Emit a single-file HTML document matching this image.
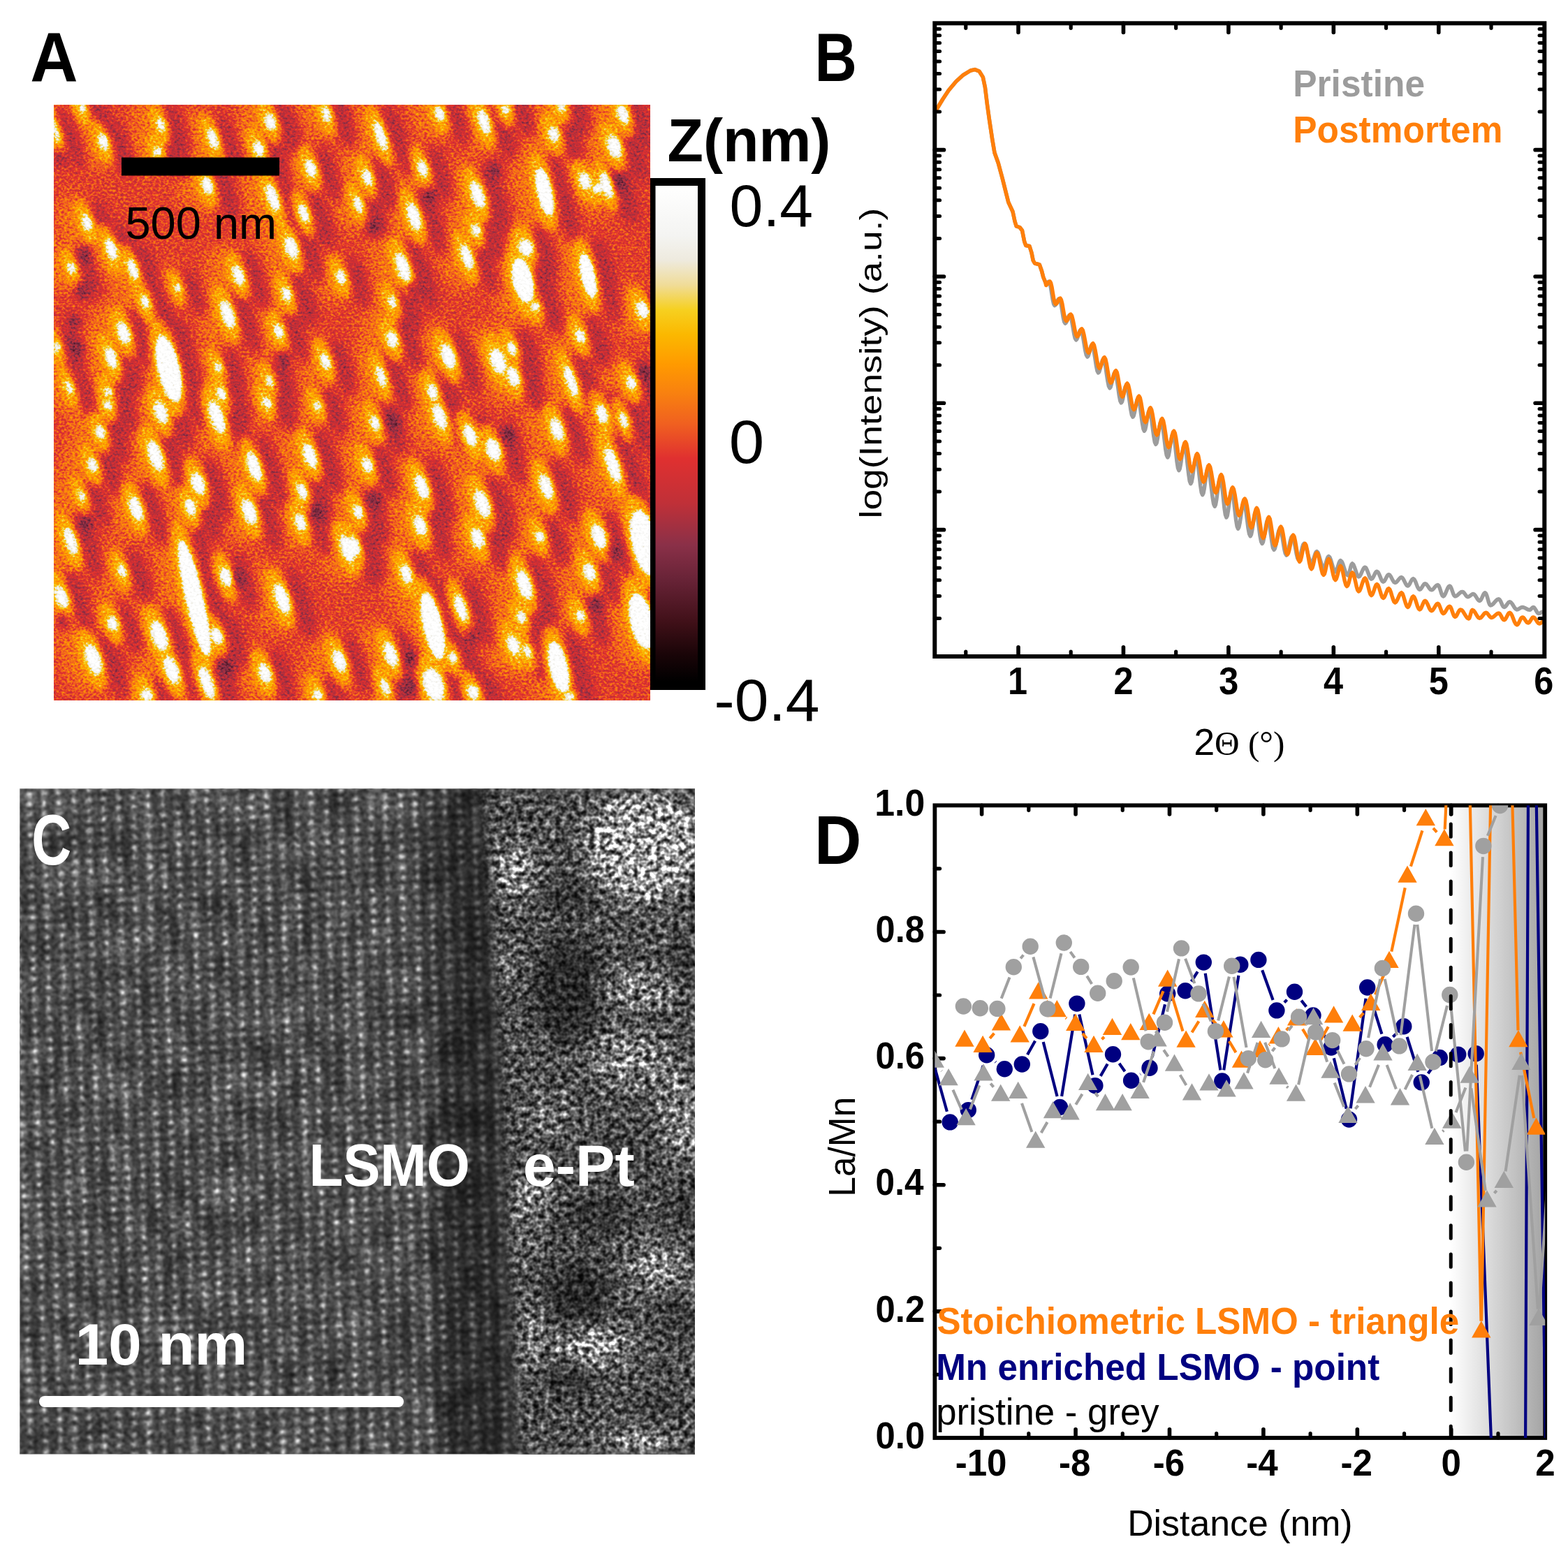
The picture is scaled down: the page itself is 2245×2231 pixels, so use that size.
<!DOCTYPE html>
<html lang="en">
<head>
<meta charset="utf-8">
<title>Figure</title>
<style>
html,body{margin:0;padding:0;background:#fff;}
body{width:2245px;height:2231px;overflow:hidden;}
svg{display:block;}
text{white-space:pre;}
</style>
</head>
<body>
<svg width="2245" height="2231" viewBox="0 0 2245 2231">
<defs>
<filter id="afmmap" x="0" y="0" width="100%" height="100%" filterUnits="objectBoundingBox" color-interpolation-filters="sRGB">
<feTurbulence type="fractalNoise" baseFrequency="0.26 0.32" numOctaves="2" seed="7" result="n"/>
<feColorMatrix in="n" type="matrix" values="1 0 0 0 0 1 0 0 0 0 1 0 0 0 0 0 0 0 0 1" result="ng"/>
<feComposite in="SourceGraphic" in2="ng" operator="arithmetic" k1="0" k2="1" k3="0.44" k4="-0.22" result="h"/>
<feComponentTransfer in="h"><feFuncR type="table" tableValues="0.000 0.046 0.093 0.148 0.205 0.260 0.306 0.352 0.397 0.445 0.493 0.541 0.603 0.666 0.728 0.774 0.809 0.844 0.878 0.901 0.923 0.944 0.957 0.970 0.982 0.993 0.997 0.991 0.984 0.975 0.965 0.953 0.941 0.937 0.933 0.945 0.957 0.968 0.978 0.989 1.000"/><feFuncG type="table" tableValues="0.000 0.009 0.018 0.033 0.049 0.067 0.089 0.111 0.132 0.152 0.170 0.188 0.188 0.188 0.188 0.188 0.188 0.188 0.188 0.255 0.323 0.387 0.439 0.492 0.536 0.578 0.624 0.673 0.722 0.769 0.816 0.839 0.863 0.890 0.918 0.937 0.957 0.968 0.978 0.989 1.000"/><feFuncB type="table" tableValues="0.000 0.014 0.029 0.051 0.075 0.101 0.136 0.171 0.206 0.234 0.258 0.282 0.264 0.245 0.227 0.214 0.206 0.197 0.188 0.166 0.143 0.120 0.094 0.068 0.042 0.016 0.000 0.000 0.000 0.063 0.125 0.361 0.596 0.733 0.871 0.910 0.949 0.962 0.975 0.987 1.000"/></feComponentTransfer>
</filter>
<filter id="bl2_2" x="-20%" y="-20%" width="140%" height="140%" color-interpolation-filters="sRGB"><feGaussianBlur stdDeviation="2.2"/></filter>
<filter id="bl3" x="-20%" y="-20%" width="140%" height="140%" color-interpolation-filters="sRGB"><feGaussianBlur stdDeviation="3"/></filter>
<filter id="bl5" x="-20%" y="-20%" width="140%" height="140%" color-interpolation-filters="sRGB"><feGaussianBlur stdDeviation="5"/></filter>
<filter id="bl7" x="-20%" y="-20%" width="140%" height="140%" color-interpolation-filters="sRGB"><feGaussianBlur stdDeviation="7"/></filter>
<filter id="bl11" x="-20%" y="-20%" width="140%" height="140%" color-interpolation-filters="sRGB"><feGaussianBlur stdDeviation="11"/></filter>
<clipPath id="clipA"><rect x="0" y="0" width="854" height="853"/></clipPath>
<linearGradient id="cbar" x1="0" y1="0" x2="0" y2="1">
<stop offset="0" stop-color="#ffffff"/>
<stop offset="0.10" stop-color="#f4f4f2"/>
<stop offset="0.15" stop-color="#eeeade"/>
<stop offset="0.20" stop-color="#f0dc98"/>
<stop offset="0.25" stop-color="#f6d020"/>
<stop offset="0.30" stop-color="#fbb800"/>
<stop offset="0.36" stop-color="#ff9a00"/>
<stop offset="0.42" stop-color="#f88010"/>
<stop offset="0.48" stop-color="#f06020"/>
<stop offset="0.55" stop-color="#e03030"/>
<stop offset="0.64" stop-color="#c03038"/>
<stop offset="0.725" stop-color="#8a3048"/>
<stop offset="0.79" stop-color="#6a2438"/>
<stop offset="0.88" stop-color="#401018"/>
<stop offset="0.945" stop-color="#1a0508"/>
<stop offset="1" stop-color="#000000"/>
</linearGradient>
<clipPath id="clipB"><rect x="1338.3" y="33.3" width="873.0000000000002" height="906.7"/></clipPath>
<clipPath id="clipC"><rect x="0" y="0" width="967" height="953.5"/></clipPath>
<radialGradient id="dotg" cx="0.5" cy="0.5" r="0.5"><stop offset="0" stop-color="#fff" stop-opacity="0.76"/><stop offset="0.3" stop-color="#fff" stop-opacity="0.5"/><stop offset="0.62" stop-color="#fff" stop-opacity="0.17"/><stop offset="1" stop-color="#fff" stop-opacity="0"/></radialGradient>
<pattern id="lat" width="21.2" height="14.7" patternUnits="userSpaceOnUse" patternTransform="matrix(1 -0.08 0.025 1 3 2)"><circle cx="10.6" cy="7.35" r="7.9" fill="url(#dotg)"/></pattern>
<filter id="latmod" x="0" y="0" width="100%" height="100%" color-interpolation-filters="sRGB">
<feTurbulence type="fractalNoise" baseFrequency="0.03 0.02" numOctaves="2" seed="5" result="n"/>
<feColorMatrix in="n" type="matrix" values="1 0 0 0 0 1 0 0 0 0 1 0 0 0 0 0 0 0 0 1" result="s"/>
<feComposite in="SourceGraphic" in2="s" operator="arithmetic" k1="1.0" k2="0.5" k3="0" k4="0" result="m"/>
<feTurbulence type="fractalNoise" baseFrequency="0.16" numOctaves="2" seed="23" result="n2"/>
<feColorMatrix in="n2" type="matrix" values="1 0 0 0 0 1 0 0 0 0 1 0 0 0 0 0 0 0 0 1" result="s2"/>
<feComposite in="m" in2="s2" operator="arithmetic" k1="1.4" k2="0.3" k3="0" k4="0" result="m2"/>
<feGaussianBlur in="m2" stdDeviation="0.9"/>
</filter>
<filter id="spk" x="0" y="0" width="100%" height="100%" color-interpolation-filters="sRGB">
<feTurbulence type="fractalNoise" baseFrequency="0.125" numOctaves="2" seed="11" result="n"/>
<feColorMatrix in="n" type="matrix" values="1.35 0 0 0 -0.175 1.35 0 0 0 -0.175 1.35 0 0 0 -0.175 0 0 0 0 1" result="n1"/>
<feComponentTransfer in="n1" result="s"><feFuncR type="gamma" amplitude="1" exponent="1.5" offset="0"/><feFuncG type="gamma" amplitude="1" exponent="1.5" offset="0"/><feFuncB type="gamma" amplitude="1" exponent="1.5" offset="0"/></feComponentTransfer>
<feComposite in="SourceGraphic" in2="s" operator="arithmetic" k1="2.6" k2="0.06" k3="0" k4="0" result="o"/>
<feGaussianBlur in="o" stdDeviation="0.7"/>
</filter>
<filter id="tb14" x="-30%" y="-30%" width="160%" height="160%" color-interpolation-filters="sRGB"><feGaussianBlur stdDeviation="14"/></filter>
<filter id="tb22" x="-30%" y="-30%" width="160%" height="160%" color-interpolation-filters="sRGB"><feGaussianBlur stdDeviation="22"/></filter>
<filter id="tb30" x="-30%" y="-30%" width="160%" height="160%" color-interpolation-filters="sRGB"><feGaussianBlur stdDeviation="30"/></filter>
<linearGradient id="band" x1="0" y1="0" x2="1" y2="0"><stop offset="0" stop-color="#000" stop-opacity="0"/><stop offset="0.35" stop-color="#000" stop-opacity="0.42"/><stop offset="0.7" stop-color="#000" stop-opacity="0.42"/><stop offset="1" stop-color="#000" stop-opacity="0"/></linearGradient>
<mask id="ptmask" maskUnits="userSpaceOnUse" x="0" y="0" width="967" height="953.5"><g filter="url(#tbm)"><polygon points="662,0 672,120 680,260 690,400 696,540 702,680 708,820 716,953.5 1007,953.5 1007,0" fill="#fff"/></g></mask>
<filter id="tbm" x="-10%" y="-10%" width="120%" height="120%"><feGaussianBlur stdDeviation="9"/></filter>
<clipPath id="clipD"><rect x="1338.4" y="1153.3" width="873.7999999999997" height="905.7"/></clipPath>
<linearGradient id="gradD" x1="0" y1="0" x2="1" y2="0"><stop offset="0" stop-color="#ffffff"/><stop offset="0.5" stop-color="#d2d2d2"/><stop offset="1" stop-color="#a3a3a3"/></linearGradient>
</defs>
<rect x="0" y="0" width="2245" height="2231" fill="#fff"/>
<g id="panelA">
<g transform="translate(77 150)" clip-path="url(#clipA)">
<g filter="url(#afmmap)">
<rect x="0" y="0" width="854" height="853" fill="#777777"/>
<g filter="url(#bl11)" fill="#949494" opacity="0.8"><ellipse cx="25.1" cy="5.6" rx="24.4" ry="36.6" transform="rotate(-19 25.1 5.6)"/><ellipse cx="-13.8" cy="37.8" rx="22.7" ry="50.0" transform="rotate(-19 -13.8 37.8)"/><ellipse cx="55.2" cy="53.4" rx="26.7" ry="42.7" transform="rotate(-19 55.2 53.4)"/><ellipse cx="137.5" cy="28.9" rx="25.6" ry="40.2" transform="rotate(-19 137.5 28.9)"/><ellipse cx="133.0" cy="66.7" rx="26.2" ry="34.8" transform="rotate(-19 133.0 66.7)"/><ellipse cx="212.0" cy="48.9" rx="26.7" ry="46.3" transform="rotate(-19 212.0 48.9)"/><ellipse cx="294.2" cy="24.5" rx="27.8" ry="42.7" transform="rotate(-19 294.2 24.5)"/><ellipse cx="374.3" cy="13.3" rx="25.6" ry="42.7" transform="rotate(-19 374.3 13.3)"/><ellipse cx="277.6" cy="63.4" rx="27.8" ry="41.5" transform="rotate(-19 277.6 63.4)"/><ellipse cx="352.1" cy="91.2" rx="27.8" ry="43.9" transform="rotate(-19 352.1 91.2)"/><ellipse cx="204.2" cy="115.6" rx="27.8" ry="42.7" transform="rotate(-19 204.2 115.6)"/><ellipse cx="297.6" cy="133.4" rx="27.8" ry="52.5" transform="rotate(-19 297.6 133.4)"/><ellipse cx="342.1" cy="155.7" rx="26.7" ry="45.1" transform="rotate(-19 342.1 155.7)"/><ellipse cx="31.8" cy="169.0" rx="26.7" ry="42.7" transform="rotate(-19 31.8 169.0)"/><ellipse cx="66.3" cy="206.8" rx="27.8" ry="47.6" transform="rotate(-19 66.3 206.8)"/><ellipse cx="324.3" cy="204.6" rx="28.9" ry="47.6" transform="rotate(-19 324.3 204.6)"/><ellipse cx="9.6" cy="233.5" rx="25.6" ry="37.8" transform="rotate(-19 9.6 233.5)"/><ellipse cx="97.4" cy="235.7" rx="26.7" ry="47.6" transform="rotate(-19 97.4 235.7)"/><ellipse cx="248.7" cy="244.6" rx="27.8" ry="45.1" transform="rotate(-19 248.7 244.6)"/><ellipse cx="395.4" cy="246.9" rx="26.7" ry="40.2" transform="rotate(-19 395.4 246.9)"/><ellipse cx="317.6" cy="271.3" rx="26.7" ry="40.2" transform="rotate(-19 317.6 271.3)"/><ellipse cx="115.2" cy="282.4" rx="25.6" ry="40.2" transform="rotate(-19 115.2 282.4)"/><ellipse cx="161.9" cy="262.4" rx="24.4" ry="35.3" transform="rotate(-19 161.9 262.4)"/><ellipse cx="233.1" cy="300.2" rx="28.9" ry="52.5" transform="rotate(-19 233.1 300.2)"/><ellipse cx="84.1" cy="326.9" rx="28.9" ry="47.6" transform="rotate(-19 84.1 326.9)"/><ellipse cx="306.5" cy="324.7" rx="26.7" ry="40.2" transform="rotate(-19 306.5 324.7)"/><ellipse cx="148.6" cy="378.1" rx="36.0" ry="83.0" transform="rotate(-13 148.6 378.1)"/><ellipse cx="66.3" cy="362.5" rx="27.8" ry="47.6" transform="rotate(-19 66.3 362.5)"/><ellipse cx="373.2" cy="367.0" rx="26.7" ry="42.7" transform="rotate(-19 373.2 367.0)"/><ellipse cx="219.7" cy="375.8" rx="24.4" ry="37.8" transform="rotate(-19 219.7 375.8)"/><ellipse cx="6.2" cy="404.8" rx="24.4" ry="40.2" transform="rotate(-19 6.2 404.8)"/><ellipse cx="61.8" cy="411.4" rx="25.6" ry="35.3" transform="rotate(-19 61.8 411.4)"/><ellipse cx="293.1" cy="395.9" rx="24.4" ry="37.8" transform="rotate(-19 293.1 395.9)"/><ellipse cx="224.2" cy="413.7" rx="26.7" ry="40.2" transform="rotate(-19 224.2 413.7)"/><ellipse cx="286.5" cy="422.6" rx="24.4" ry="32.9" transform="rotate(-19 286.5 422.6)"/><ellipse cx="-11.6" cy="346.9" rx="24.4" ry="37.8" transform="rotate(-19 -11.6 346.9)"/><ellipse cx="452.1" cy="44.5" rx="26.7" ry="54.9" transform="rotate(-19 452.1 44.5)"/><ellipse cx="536.7" cy="13.3" rx="26.7" ry="40.2" transform="rotate(-19 536.7 13.3)"/><ellipse cx="600.0" cy="24.5" rx="27.8" ry="50.0" transform="rotate(-19 600.0 24.5)"/><ellipse cx="631.2" cy="6.7" rx="26.7" ry="35.3" transform="rotate(-19 631.2 6.7)"/><ellipse cx="711.2" cy="4.4" rx="26.7" ry="34.1" transform="rotate(-19 711.2 4.4)"/><ellipse cx="799.1" cy="13.3" rx="27.8" ry="45.1" transform="rotate(-19 799.1 13.3)"/><ellipse cx="700.1" cy="42.3" rx="27.8" ry="40.2" transform="rotate(-19 700.1 42.3)"/><ellipse cx="786.8" cy="60.0" rx="30.0" ry="47.6" transform="rotate(-19 786.8 60.0)"/><ellipse cx="512.2" cy="91.2" rx="26.7" ry="42.7" transform="rotate(-19 512.2 91.2)"/><ellipse cx="433.2" cy="104.5" rx="26.7" ry="42.7" transform="rotate(-19 433.2 104.5)"/><ellipse cx="686.8" cy="124.5" rx="30.7" ry="67.1" transform="rotate(-13 686.8 124.5)"/><ellipse cx="744.6" cy="109.0" rx="28.9" ry="41.5" transform="rotate(-19 744.6 109.0)"/><ellipse cx="762.4" cy="120.1" rx="28.9" ry="35.3" transform="rotate(-19 762.4 120.1)"/><ellipse cx="775.7" cy="115.6" rx="27.8" ry="52.5" transform="rotate(-19 775.7 115.6)"/><ellipse cx="591.1" cy="129.0" rx="28.9" ry="52.5" transform="rotate(-19 591.1 129.0)"/><ellipse cx="500.0" cy="160.1" rx="28.9" ry="52.5" transform="rotate(-19 500.0 160.1)"/><ellipse cx="419.9" cy="142.3" rx="25.6" ry="42.7" transform="rotate(-19 419.9 142.3)"/><ellipse cx="588.9" cy="180.1" rx="26.7" ry="37.8" transform="rotate(-19 588.9 180.1)"/><ellipse cx="660.1" cy="204.6" rx="31.1" ry="42.7" transform="rotate(-19 660.1 204.6)"/><ellipse cx="655.6" cy="251.3" rx="34.5" ry="64.7" transform="rotate(-13 655.6 251.3)"/><ellipse cx="575.6" cy="217.9" rx="27.8" ry="50.0" transform="rotate(-19 575.6 217.9)"/><ellipse cx="484.4" cy="233.5" rx="28.9" ry="54.9" transform="rotate(-19 484.4 233.5)"/><ellipse cx="749.0" cy="244.6" rx="30.0" ry="64.7" transform="rotate(-13 749.0 244.6)"/><ellipse cx="826.9" cy="293.6" rx="28.9" ry="42.7" transform="rotate(-19 826.9 293.6)"/><ellipse cx="468.8" cy="282.4" rx="25.6" ry="37.8" transform="rotate(-19 468.8 282.4)"/><ellipse cx="468.8" cy="335.8" rx="27.8" ry="42.7" transform="rotate(-19 468.8 335.8)"/><ellipse cx="737.9" cy="331.4" rx="26.7" ry="40.2" transform="rotate(-19 737.9 331.4)"/><ellipse cx="548.9" cy="360.3" rx="30.0" ry="50.0" transform="rotate(-19 548.9 360.3)"/><ellipse cx="640.1" cy="349.2" rx="26.7" ry="40.2" transform="rotate(-19 640.1 349.2)"/><ellipse cx="620.1" cy="367.0" rx="31.1" ry="50.0" transform="rotate(-19 620.1 367.0)"/><ellipse cx="642.3" cy="389.2" rx="28.9" ry="45.1" transform="rotate(-19 642.3 389.2)"/><ellipse cx="724.6" cy="395.9" rx="26.7" ry="57.4" transform="rotate(-19 724.6 395.9)"/><ellipse cx="453.3" cy="389.2" rx="25.6" ry="47.6" transform="rotate(-19 453.3 389.2)"/><ellipse cx="526.6" cy="411.4" rx="26.7" ry="42.7" transform="rotate(-19 526.6 411.4)"/><ellipse cx="811.3" cy="398.1" rx="26.7" ry="40.2" transform="rotate(-19 811.3 398.1)"/><ellipse cx="673.4" cy="289.1" rx="26.7" ry="35.3" transform="rotate(-19 673.4 289.1)"/><ellipse cx="61.8" cy="430.3" rx="26.7" ry="35.3" transform="rotate(-19 61.8 430.3)"/><ellipse cx="137.5" cy="440.3" rx="28.9" ry="47.6" transform="rotate(-19 137.5 440.3)"/><ellipse cx="217.5" cy="447.0" rx="30.0" ry="57.4" transform="rotate(-19 217.5 447.0)"/><ellipse cx="290.9" cy="429.2" rx="26.7" ry="32.9" transform="rotate(-19 290.9 429.2)"/><ellipse cx="362.1" cy="431.4" rx="25.6" ry="35.3" transform="rotate(-19 362.1 431.4)"/><ellipse cx="50.7" cy="469.3" rx="26.7" ry="40.2" transform="rotate(-19 50.7 469.3)"/><ellipse cx="129.7" cy="502.6" rx="30.0" ry="54.9" transform="rotate(-19 129.7 502.6)"/><ellipse cx="270.9" cy="518.2" rx="28.9" ry="54.9" transform="rotate(-19 270.9 518.2)"/><ellipse cx="351.0" cy="502.6" rx="28.9" ry="50.0" transform="rotate(-19 351.0 502.6)"/><ellipse cx="190.8" cy="542.6" rx="30.0" ry="47.6" transform="rotate(-19 190.8 542.6)"/><ellipse cx="39.6" cy="516.0" rx="26.7" ry="40.2" transform="rotate(-19 39.6 516.0)"/><ellipse cx="339.8" cy="553.8" rx="26.7" ry="42.7" transform="rotate(-19 339.8 553.8)"/><ellipse cx="101.9" cy="578.2" rx="28.9" ry="50.0" transform="rotate(-19 101.9 578.2)"/><ellipse cx="179.7" cy="576.0" rx="27.8" ry="42.7" transform="rotate(-19 179.7 576.0)"/><ellipse cx="264.2" cy="582.7" rx="30.0" ry="50.0" transform="rotate(-19 264.2 582.7)"/><ellipse cx="337.6" cy="598.2" rx="27.8" ry="42.7" transform="rotate(-19 337.6 598.2)"/><ellipse cx="8.5" cy="624.9" rx="27.8" ry="52.5" transform="rotate(-19 8.5 624.9)"/><ellipse cx="404.3" cy="636.1" rx="28.9" ry="52.5" transform="rotate(-19 404.3 636.1)"/><ellipse cx="185.3" cy="706.1" rx="32.9" ry="124.6" transform="rotate(-13 185.3 706.1)"/><ellipse cx="81.9" cy="667.2" rx="25.6" ry="40.2" transform="rotate(-19 81.9 667.2)"/><ellipse cx="230.9" cy="676.1" rx="28.9" ry="45.1" transform="rotate(-19 230.9 676.1)"/><ellipse cx="310.9" cy="707.2" rx="30.0" ry="54.9" transform="rotate(-19 310.9 707.2)"/><ellipse cx="-4.9" cy="705.0" rx="28.9" ry="47.6" transform="rotate(-19 -4.9 705.0)"/><ellipse cx="68.5" cy="742.8" rx="27.8" ry="40.2" transform="rotate(-19 68.5 742.8)"/><ellipse cx="135.2" cy="760.6" rx="31.1" ry="54.9" transform="rotate(-19 135.2 760.6)"/><ellipse cx="217.5" cy="760.6" rx="28.9" ry="42.7" transform="rotate(-19 217.5 760.6)"/><ellipse cx="40.7" cy="794.0" rx="31.1" ry="54.9" transform="rotate(-19 40.7 794.0)"/><ellipse cx="153.0" cy="809.5" rx="30.0" ry="52.5" transform="rotate(-19 153.0 809.5)"/><ellipse cx="286.5" cy="814.0" rx="28.9" ry="45.1" transform="rotate(-19 286.5 814.0)"/><ellipse cx="393.2" cy="796.2" rx="28.9" ry="47.6" transform="rotate(-19 393.2 796.2)"/><ellipse cx="203.1" cy="827.3" rx="28.9" ry="57.4" transform="rotate(-19 203.1 827.3)"/><ellipse cx="117.4" cy="845.1" rx="28.9" ry="37.8" transform="rotate(-19 117.4 845.1)"/><ellipse cx="362.1" cy="845.1" rx="26.7" ry="37.8" transform="rotate(-19 362.1 845.1)"/><ellipse cx="24.0" cy="560.4" rx="24.4" ry="37.8" transform="rotate(-19 24.0 560.4)"/><ellipse cx="536.7" cy="447.0" rx="28.9" ry="50.0" transform="rotate(-19 536.7 447.0)"/><ellipse cx="444.4" cy="455.9" rx="26.7" ry="40.2" transform="rotate(-19 444.4 455.9)"/><ellipse cx="580.0" cy="473.7" rx="28.9" ry="47.6" transform="rotate(-19 580.0 473.7)"/><ellipse cx="613.4" cy="493.7" rx="31.1" ry="47.6" transform="rotate(-19 613.4 493.7)"/><ellipse cx="704.6" cy="464.8" rx="28.9" ry="47.6" transform="rotate(-19 704.6 464.8)"/><ellipse cx="769.1" cy="442.6" rx="27.8" ry="45.1" transform="rotate(-19 769.1 442.6)"/><ellipse cx="800.2" cy="451.5" rx="25.6" ry="42.7" transform="rotate(-19 800.2 451.5)"/><ellipse cx="433.2" cy="516.0" rx="27.8" ry="40.2" transform="rotate(-19 433.2 516.0)"/><ellipse cx="784.6" cy="516.0" rx="28.9" ry="59.8" transform="rotate(-19 784.6 516.0)"/><ellipse cx="511.1" cy="547.1" rx="28.9" ry="50.0" transform="rotate(-19 511.1 547.1)"/><ellipse cx="689.0" cy="547.1" rx="28.9" ry="50.0" transform="rotate(-19 689.0 547.1)"/><ellipse cx="597.8" cy="571.6" rx="30.0" ry="52.5" transform="rotate(-19 597.8 571.6)"/><ellipse cx="419.9" cy="582.7" rx="26.7" ry="40.2" transform="rotate(-19 419.9 582.7)"/><ellipse cx="508.9" cy="602.7" rx="28.9" ry="45.1" transform="rotate(-19 508.9 602.7)"/><ellipse cx="591.1" cy="620.5" rx="28.9" ry="45.1" transform="rotate(-19 591.1 620.5)"/><ellipse cx="680.1" cy="618.3" rx="26.7" ry="37.8" transform="rotate(-19 680.1 618.3)"/><ellipse cx="764.6" cy="618.3" rx="30.0" ry="50.0" transform="rotate(-19 764.6 618.3)"/><ellipse cx="415.4" cy="631.6" rx="26.7" ry="45.1" transform="rotate(-19 415.4 631.6)"/><ellipse cx="830.2" cy="627.2" rx="38.9" ry="81.8" transform="rotate(-13 830.2 627.2)"/><ellipse cx="488.8" cy="671.6" rx="27.8" ry="45.1" transform="rotate(-19 488.8 671.6)"/><ellipse cx="657.9" cy="687.2" rx="30.0" ry="54.9" transform="rotate(-19 657.9 687.2)"/><ellipse cx="751.3" cy="669.4" rx="28.9" ry="42.7" transform="rotate(-19 751.3 669.4)"/><ellipse cx="526.6" cy="746.1" rx="33.8" ry="83.0" transform="rotate(-13 526.6 746.1)"/><ellipse cx="566.7" cy="720.6" rx="27.8" ry="52.5" transform="rotate(-19 566.7 720.6)"/><ellipse cx="653.4" cy="733.9" rx="26.7" ry="37.8" transform="rotate(-19 653.4 733.9)"/><ellipse cx="737.9" cy="731.7" rx="26.7" ry="37.8" transform="rotate(-19 737.9 731.7)"/><ellipse cx="825.8" cy="739.5" rx="36.7" ry="73.3" transform="rotate(-13 825.8 739.5)"/><ellipse cx="466.6" cy="787.3" rx="28.9" ry="50.0" transform="rotate(-19 466.6 787.3)"/><ellipse cx="642.3" cy="773.9" rx="28.9" ry="45.1" transform="rotate(-19 642.3 773.9)"/><ellipse cx="706.8" cy="805.1" rx="33.3" ry="69.6" transform="rotate(-13 706.8 805.1)"/><ellipse cx="527.8" cy="830.6" rx="36.0" ry="57.4" transform="rotate(-19 527.8 830.6)"/><ellipse cx="584.5" cy="840.7" rx="28.9" ry="40.2" transform="rotate(-19 584.5 840.7)"/><ellipse cx="458.8" cy="834.0" rx="25.6" ry="42.7" transform="rotate(-19 458.8 834.0)"/><ellipse cx="555.6" cy="791.7" rx="26.7" ry="37.8" transform="rotate(-19 555.6 791.7)"/><ellipse cx="722.4" cy="847.3" rx="26.7" ry="35.3" transform="rotate(-19 722.4 847.3)"/><ellipse cx="662.3" cy="782.8" rx="25.6" ry="40.2" transform="rotate(-19 662.3 782.8)"/></g>
<g filter="url(#bl7)" fill="#555555" opacity="0.85"><ellipse cx="64.8" cy="13.6" rx="13.1" ry="36.6" transform="rotate(-19 64.8 13.6)"/><ellipse cx="24.8" cy="45.8" rx="12.7" ry="50.0" transform="rotate(-19 24.8 45.8)"/><ellipse cx="96.2" cy="61.4" rx="13.7" ry="42.7" transform="rotate(-19 96.2 61.4)"/><ellipse cx="177.8" cy="36.9" rx="13.4" ry="40.2" transform="rotate(-19 177.8 36.9)"/><ellipse cx="173.7" cy="74.7" rx="13.6" ry="34.8" transform="rotate(-19 173.7 74.7)"/><ellipse cx="253.0" cy="56.9" rx="13.7" ry="46.3" transform="rotate(-19 253.0 56.9)"/><ellipse cx="335.9" cy="32.5" rx="13.9" ry="42.7" transform="rotate(-19 335.9 32.5)"/><ellipse cx="414.6" cy="21.3" rx="13.4" ry="42.7" transform="rotate(-19 414.6 21.3)"/><ellipse cx="319.2" cy="71.4" rx="13.9" ry="41.5" transform="rotate(-19 319.2 71.4)"/><ellipse cx="393.7" cy="99.2" rx="13.9" ry="43.9" transform="rotate(-19 393.7 99.2)"/><ellipse cx="245.8" cy="123.6" rx="13.9" ry="42.7" transform="rotate(-19 245.8 123.6)"/><ellipse cx="339.2" cy="141.4" rx="13.9" ry="52.5" transform="rotate(-19 339.2 141.4)"/><ellipse cx="383.1" cy="163.7" rx="13.7" ry="45.1" transform="rotate(-19 383.1 163.7)"/><ellipse cx="72.8" cy="177.0" rx="13.7" ry="42.7" transform="rotate(-19 72.8 177.0)"/><ellipse cx="108.0" cy="214.8" rx="13.9" ry="47.6" transform="rotate(-19 108.0 214.8)"/><ellipse cx="366.6" cy="212.6" rx="14.2" ry="47.6" transform="rotate(-19 366.6 212.6)"/><ellipse cx="49.9" cy="241.5" rx="13.4" ry="37.8" transform="rotate(-19 49.9 241.5)"/><ellipse cx="138.4" cy="243.7" rx="13.7" ry="47.6" transform="rotate(-19 138.4 243.7)"/><ellipse cx="290.3" cy="252.6" rx="13.9" ry="45.1" transform="rotate(-19 290.3 252.6)"/><ellipse cx="436.4" cy="254.9" rx="13.7" ry="40.2" transform="rotate(-19 436.4 254.9)"/><ellipse cx="358.6" cy="279.3" rx="13.7" ry="40.2" transform="rotate(-19 358.6 279.3)"/><ellipse cx="155.5" cy="290.4" rx="13.4" ry="40.2" transform="rotate(-19 155.5 290.4)"/><ellipse cx="201.6" cy="270.4" rx="13.1" ry="35.3" transform="rotate(-19 201.6 270.4)"/><ellipse cx="275.4" cy="308.2" rx="14.2" ry="52.5" transform="rotate(-19 275.4 308.2)"/><ellipse cx="126.4" cy="334.9" rx="14.2" ry="47.6" transform="rotate(-19 126.4 334.9)"/><ellipse cx="347.5" cy="332.7" rx="13.7" ry="40.2" transform="rotate(-19 347.5 332.7)"/><ellipse cx="195.2" cy="386.1" rx="16.0" ry="83.0" transform="rotate(-13 195.2 386.1)"/><ellipse cx="108.0" cy="370.5" rx="13.9" ry="47.6" transform="rotate(-19 108.0 370.5)"/><ellipse cx="414.2" cy="375.0" rx="13.7" ry="42.7" transform="rotate(-19 414.2 375.0)"/><ellipse cx="259.4" cy="383.8" rx="13.1" ry="37.8" transform="rotate(-19 259.4 383.8)"/><ellipse cx="45.9" cy="412.8" rx="13.1" ry="40.2" transform="rotate(-19 45.9 412.8)"/><ellipse cx="102.2" cy="419.4" rx="13.4" ry="35.3" transform="rotate(-19 102.2 419.4)"/><ellipse cx="332.8" cy="403.9" rx="13.1" ry="37.8" transform="rotate(-19 332.8 403.9)"/><ellipse cx="265.2" cy="421.7" rx="13.7" ry="40.2" transform="rotate(-19 265.2 421.7)"/><ellipse cx="326.1" cy="430.6" rx="13.1" ry="32.9" transform="rotate(-19 326.1 430.6)"/><ellipse cx="28.1" cy="354.9" rx="13.1" ry="37.8" transform="rotate(-19 28.1 354.9)"/><ellipse cx="493.1" cy="52.5" rx="13.7" ry="54.9" transform="rotate(-19 493.1 52.5)"/><ellipse cx="577.7" cy="21.3" rx="13.7" ry="40.2" transform="rotate(-19 577.7 21.3)"/><ellipse cx="641.7" cy="32.5" rx="13.9" ry="50.0" transform="rotate(-19 641.7 32.5)"/><ellipse cx="672.2" cy="14.7" rx="13.7" ry="35.3" transform="rotate(-19 672.2 14.7)"/><ellipse cx="752.2" cy="12.4" rx="13.7" ry="34.1" transform="rotate(-19 752.2 12.4)"/><ellipse cx="840.7" cy="21.3" rx="13.9" ry="45.1" transform="rotate(-19 840.7 21.3)"/><ellipse cx="741.8" cy="50.3" rx="13.9" ry="40.2" transform="rotate(-19 741.8 50.3)"/><ellipse cx="829.9" cy="68.0" rx="14.5" ry="47.6" transform="rotate(-19 829.9 68.0)"/><ellipse cx="553.2" cy="99.2" rx="13.7" ry="42.7" transform="rotate(-19 553.2 99.2)"/><ellipse cx="474.2" cy="112.5" rx="13.7" ry="42.7" transform="rotate(-19 474.2 112.5)"/><ellipse cx="730.2" cy="132.5" rx="14.7" ry="67.1" transform="rotate(-13 730.2 132.5)"/><ellipse cx="786.9" cy="117.0" rx="14.2" ry="41.5" transform="rotate(-19 786.9 117.0)"/><ellipse cx="804.7" cy="128.1" rx="14.2" ry="35.3" transform="rotate(-19 804.7 128.1)"/><ellipse cx="817.4" cy="123.6" rx="13.9" ry="52.5" transform="rotate(-19 817.4 123.6)"/><ellipse cx="633.5" cy="137.0" rx="14.2" ry="52.5" transform="rotate(-19 633.5 137.0)"/><ellipse cx="542.3" cy="168.1" rx="14.2" ry="52.5" transform="rotate(-19 542.3 168.1)"/><ellipse cx="460.2" cy="150.3" rx="13.4" ry="42.7" transform="rotate(-19 460.2 150.3)"/><ellipse cx="629.9" cy="188.1" rx="13.7" ry="37.8" transform="rotate(-19 629.9 188.1)"/><ellipse cx="703.8" cy="212.6" rx="14.8" ry="42.7" transform="rotate(-19 703.8 212.6)"/><ellipse cx="701.3" cy="259.3" rx="15.6" ry="64.7" transform="rotate(-13 701.3 259.3)"/><ellipse cx="617.2" cy="225.9" rx="13.9" ry="50.0" transform="rotate(-19 617.2 225.9)"/><ellipse cx="526.7" cy="241.5" rx="14.2" ry="54.9" transform="rotate(-19 526.7 241.5)"/><ellipse cx="792.0" cy="252.6" rx="14.5" ry="64.7" transform="rotate(-13 792.0 252.6)"/><ellipse cx="869.2" cy="301.6" rx="14.2" ry="42.7" transform="rotate(-19 869.2 301.6)"/><ellipse cx="509.2" cy="290.4" rx="13.4" ry="37.8" transform="rotate(-19 509.2 290.4)"/><ellipse cx="510.5" cy="343.8" rx="13.9" ry="42.7" transform="rotate(-19 510.5 343.8)"/><ellipse cx="778.9" cy="339.4" rx="13.7" ry="40.2" transform="rotate(-19 778.9 339.4)"/><ellipse cx="591.9" cy="368.3" rx="14.5" ry="50.0" transform="rotate(-19 591.9 368.3)"/><ellipse cx="681.1" cy="357.2" rx="13.7" ry="40.2" transform="rotate(-19 681.1 357.2)"/><ellipse cx="663.7" cy="375.0" rx="14.8" ry="50.0" transform="rotate(-19 663.7 375.0)"/><ellipse cx="684.6" cy="397.2" rx="14.2" ry="45.1" transform="rotate(-19 684.6 397.2)"/><ellipse cx="765.6" cy="403.9" rx="13.7" ry="57.4" transform="rotate(-19 765.6 403.9)"/><ellipse cx="493.6" cy="397.2" rx="13.4" ry="47.6" transform="rotate(-19 493.6 397.2)"/><ellipse cx="567.6" cy="419.4" rx="13.7" ry="42.7" transform="rotate(-19 567.6 419.4)"/><ellipse cx="852.3" cy="406.1" rx="13.7" ry="40.2" transform="rotate(-19 852.3 406.1)"/><ellipse cx="714.4" cy="297.1" rx="13.7" ry="35.3" transform="rotate(-19 714.4 297.1)"/><ellipse cx="102.8" cy="438.3" rx="13.7" ry="35.3" transform="rotate(-19 102.8 438.3)"/><ellipse cx="179.8" cy="448.3" rx="14.2" ry="47.6" transform="rotate(-19 179.8 448.3)"/><ellipse cx="260.5" cy="455.0" rx="14.5" ry="57.4" transform="rotate(-19 260.5 455.0)"/><ellipse cx="331.9" cy="437.2" rx="13.7" ry="32.9" transform="rotate(-19 331.9 437.2)"/><ellipse cx="402.4" cy="439.4" rx="13.4" ry="35.3" transform="rotate(-19 402.4 439.4)"/><ellipse cx="91.7" cy="477.3" rx="13.7" ry="40.2" transform="rotate(-19 91.7 477.3)"/><ellipse cx="172.7" cy="510.6" rx="14.5" ry="54.9" transform="rotate(-19 172.7 510.6)"/><ellipse cx="313.2" cy="526.2" rx="14.2" ry="54.9" transform="rotate(-19 313.2 526.2)"/><ellipse cx="393.3" cy="510.6" rx="14.2" ry="50.0" transform="rotate(-19 393.3 510.6)"/><ellipse cx="233.8" cy="550.6" rx="14.5" ry="47.6" transform="rotate(-19 233.8 550.6)"/><ellipse cx="80.6" cy="524.0" rx="13.7" ry="40.2" transform="rotate(-19 80.6 524.0)"/><ellipse cx="380.8" cy="561.8" rx="13.7" ry="42.7" transform="rotate(-19 380.8 561.8)"/><ellipse cx="144.2" cy="586.2" rx="14.2" ry="50.0" transform="rotate(-19 144.2 586.2)"/><ellipse cx="221.4" cy="584.0" rx="13.9" ry="42.7" transform="rotate(-19 221.4 584.0)"/><ellipse cx="307.2" cy="590.7" rx="14.5" ry="50.0" transform="rotate(-19 307.2 590.7)"/><ellipse cx="379.3" cy="606.2" rx="13.9" ry="42.7" transform="rotate(-19 379.3 606.2)"/><ellipse cx="50.1" cy="632.9" rx="13.9" ry="52.5" transform="rotate(-19 50.1 632.9)"/><ellipse cx="446.7" cy="644.1" rx="14.2" ry="52.5" transform="rotate(-19 446.7 644.1)"/><ellipse cx="230.0" cy="714.1" rx="15.2" ry="124.6" transform="rotate(-13 230.0 714.1)"/><ellipse cx="122.2" cy="675.2" rx="13.4" ry="40.2" transform="rotate(-19 122.2 675.2)"/><ellipse cx="273.2" cy="684.1" rx="14.2" ry="45.1" transform="rotate(-19 273.2 684.1)"/><ellipse cx="353.9" cy="715.2" rx="14.5" ry="54.9" transform="rotate(-19 353.9 715.2)"/><ellipse cx="37.5" cy="713.0" rx="14.2" ry="47.6" transform="rotate(-19 37.5 713.0)"/><ellipse cx="110.2" cy="750.8" rx="13.9" ry="40.2" transform="rotate(-19 110.2 750.8)"/><ellipse cx="178.9" cy="768.6" rx="14.8" ry="54.9" transform="rotate(-19 178.9 768.6)"/><ellipse cx="259.9" cy="768.6" rx="14.2" ry="42.7" transform="rotate(-19 259.9 768.6)"/><ellipse cx="84.4" cy="802.0" rx="14.8" ry="54.9" transform="rotate(-19 84.4 802.0)"/><ellipse cx="196.0" cy="817.5" rx="14.5" ry="52.5" transform="rotate(-19 196.0 817.5)"/><ellipse cx="328.8" cy="822.0" rx="14.2" ry="45.1" transform="rotate(-19 328.8 822.0)"/><ellipse cx="435.5" cy="804.2" rx="14.2" ry="47.6" transform="rotate(-19 435.5 804.2)"/><ellipse cx="245.4" cy="835.3" rx="14.2" ry="57.4" transform="rotate(-19 245.4 835.3)"/><ellipse cx="159.8" cy="853.1" rx="14.2" ry="37.8" transform="rotate(-19 159.8 853.1)"/><ellipse cx="403.1" cy="853.1" rx="13.7" ry="37.8" transform="rotate(-19 403.1 853.1)"/><ellipse cx="63.7" cy="568.4" rx="13.1" ry="37.8" transform="rotate(-19 63.7 568.4)"/><ellipse cx="579.0" cy="455.0" rx="14.2" ry="50.0" transform="rotate(-19 579.0 455.0)"/><ellipse cx="485.4" cy="463.9" rx="13.7" ry="40.2" transform="rotate(-19 485.4 463.9)"/><ellipse cx="622.4" cy="481.7" rx="14.2" ry="47.6" transform="rotate(-19 622.4 481.7)"/><ellipse cx="657.1" cy="501.7" rx="14.8" ry="47.6" transform="rotate(-19 657.1 501.7)"/><ellipse cx="746.9" cy="472.8" rx="14.2" ry="47.6" transform="rotate(-19 746.9 472.8)"/><ellipse cx="810.7" cy="450.6" rx="13.9" ry="45.1" transform="rotate(-19 810.7 450.6)"/><ellipse cx="840.5" cy="459.5" rx="13.4" ry="42.7" transform="rotate(-19 840.5 459.5)"/><ellipse cx="474.9" cy="524.0" rx="13.9" ry="40.2" transform="rotate(-19 474.9 524.0)"/><ellipse cx="827.0" cy="524.0" rx="14.2" ry="59.8" transform="rotate(-19 827.0 524.0)"/><ellipse cx="553.4" cy="555.1" rx="14.2" ry="50.0" transform="rotate(-19 553.4 555.1)"/><ellipse cx="731.3" cy="555.1" rx="14.2" ry="50.0" transform="rotate(-19 731.3 555.1)"/><ellipse cx="640.8" cy="579.6" rx="14.5" ry="52.5" transform="rotate(-19 640.8 579.6)"/><ellipse cx="460.9" cy="590.7" rx="13.7" ry="40.2" transform="rotate(-19 460.9 590.7)"/><ellipse cx="551.2" cy="610.7" rx="14.2" ry="45.1" transform="rotate(-19 551.2 610.7)"/><ellipse cx="633.5" cy="628.5" rx="14.2" ry="45.1" transform="rotate(-19 633.5 628.5)"/><ellipse cx="721.1" cy="626.3" rx="13.7" ry="37.8" transform="rotate(-19 721.1 626.3)"/><ellipse cx="807.6" cy="626.3" rx="14.5" ry="50.0" transform="rotate(-19 807.6 626.3)"/><ellipse cx="456.5" cy="639.6" rx="13.7" ry="45.1" transform="rotate(-19 456.5 639.6)"/><ellipse cx="878.6" cy="635.2" rx="16.7" ry="81.8" transform="rotate(-13 878.6 635.2)"/><ellipse cx="530.5" cy="679.6" rx="13.9" ry="45.1" transform="rotate(-19 530.5 679.6)"/><ellipse cx="700.9" cy="695.2" rx="14.5" ry="54.9" transform="rotate(-19 700.9 695.2)"/><ellipse cx="793.6" cy="677.4" rx="14.2" ry="42.7" transform="rotate(-19 793.6 677.4)"/><ellipse cx="571.9" cy="754.1" rx="15.4" ry="83.0" transform="rotate(-13 571.9 754.1)"/><ellipse cx="608.3" cy="728.6" rx="13.9" ry="52.5" transform="rotate(-19 608.3 728.6)"/><ellipse cx="694.4" cy="741.9" rx="13.7" ry="37.8" transform="rotate(-19 694.4 741.9)"/><ellipse cx="778.9" cy="739.7" rx="13.7" ry="37.8" transform="rotate(-19 778.9 739.7)"/><ellipse cx="872.8" cy="747.5" rx="16.2" ry="73.3" transform="rotate(-13 872.8 747.5)"/><ellipse cx="508.9" cy="795.3" rx="14.2" ry="50.0" transform="rotate(-19 508.9 795.3)"/><ellipse cx="684.6" cy="781.9" rx="14.2" ry="45.1" transform="rotate(-19 684.6 781.9)"/><ellipse cx="751.8" cy="813.1" rx="15.3" ry="69.6" transform="rotate(-13 751.8 813.1)"/><ellipse cx="574.4" cy="838.6" rx="16.0" ry="57.4" transform="rotate(-19 574.4 838.6)"/><ellipse cx="626.8" cy="848.7" rx="14.2" ry="40.2" transform="rotate(-19 626.8 848.7)"/><ellipse cx="499.2" cy="842.0" rx="13.4" ry="42.7" transform="rotate(-19 499.2 842.0)"/><ellipse cx="596.6" cy="799.7" rx="13.7" ry="37.8" transform="rotate(-19 596.6 799.7)"/><ellipse cx="763.4" cy="855.3" rx="13.7" ry="35.3" transform="rotate(-19 763.4 855.3)"/><ellipse cx="702.6" cy="790.8" rx="13.4" ry="40.2" transform="rotate(-19 702.6 790.8)"/></g>
<g filter="url(#bl5)" fill="#b2b2b2" opacity="0.85"><ellipse cx="39.1" cy="5.6" rx="10.5" ry="28.2" transform="rotate(-19 39.1 5.6)"/><ellipse cx="0.2" cy="37.8" rx="8.9" ry="41.0" transform="rotate(-19 0.2 37.8)"/><ellipse cx="69.2" cy="53.4" rx="12.5" ry="34.0" transform="rotate(-19 69.2 53.4)"/><ellipse cx="151.5" cy="28.9" rx="11.5" ry="31.7" transform="rotate(-19 151.5 28.9)"/><ellipse cx="147.0" cy="66.7" rx="12.1" ry="26.5" transform="rotate(-19 147.0 66.7)"/><ellipse cx="226.0" cy="48.9" rx="12.5" ry="37.5" transform="rotate(-19 226.0 48.9)"/><ellipse cx="308.2" cy="24.5" rx="13.5" ry="34.0" transform="rotate(-19 308.2 24.5)"/><ellipse cx="388.3" cy="13.3" rx="11.5" ry="34.0" transform="rotate(-19 388.3 13.3)"/><ellipse cx="291.6" cy="63.4" rx="13.5" ry="32.8" transform="rotate(-19 291.6 63.4)"/><ellipse cx="366.1" cy="91.2" rx="13.5" ry="35.2" transform="rotate(-19 366.1 91.2)"/><ellipse cx="218.2" cy="115.6" rx="13.5" ry="34.0" transform="rotate(-19 218.2 115.6)"/><ellipse cx="311.6" cy="133.4" rx="13.5" ry="43.4" transform="rotate(-19 311.6 133.4)"/><ellipse cx="356.1" cy="155.7" rx="12.5" ry="36.3" transform="rotate(-19 356.1 155.7)"/><ellipse cx="45.8" cy="169.0" rx="12.5" ry="34.0" transform="rotate(-19 45.8 169.0)"/><ellipse cx="80.3" cy="206.8" rx="13.5" ry="38.7" transform="rotate(-19 80.3 206.8)"/><ellipse cx="338.3" cy="204.6" rx="14.5" ry="38.7" transform="rotate(-19 338.3 204.6)"/><ellipse cx="23.6" cy="233.5" rx="11.5" ry="29.3" transform="rotate(-19 23.6 233.5)"/><ellipse cx="111.4" cy="235.7" rx="12.5" ry="38.7" transform="rotate(-19 111.4 235.7)"/><ellipse cx="262.7" cy="244.6" rx="13.5" ry="36.3" transform="rotate(-19 262.7 244.6)"/><ellipse cx="409.4" cy="246.9" rx="12.5" ry="31.7" transform="rotate(-19 409.4 246.9)"/><ellipse cx="331.6" cy="271.3" rx="12.5" ry="31.7" transform="rotate(-19 331.6 271.3)"/><ellipse cx="129.2" cy="282.4" rx="11.5" ry="31.7" transform="rotate(-19 129.2 282.4)"/><ellipse cx="175.9" cy="262.4" rx="10.5" ry="27.0" transform="rotate(-19 175.9 262.4)"/><ellipse cx="247.1" cy="300.2" rx="14.5" ry="43.4" transform="rotate(-19 247.1 300.2)"/><ellipse cx="98.1" cy="326.9" rx="14.5" ry="38.7" transform="rotate(-19 98.1 326.9)"/><ellipse cx="320.5" cy="324.7" rx="12.5" ry="31.7" transform="rotate(-19 320.5 324.7)"/><ellipse cx="162.6" cy="378.1" rx="20.9" ry="72.5" transform="rotate(-13 162.6 378.1)"/><ellipse cx="80.3" cy="362.5" rx="13.5" ry="38.7" transform="rotate(-19 80.3 362.5)"/><ellipse cx="387.2" cy="367.0" rx="12.5" ry="34.0" transform="rotate(-19 387.2 367.0)"/><ellipse cx="233.7" cy="375.8" rx="10.5" ry="29.3" transform="rotate(-19 233.7 375.8)"/><ellipse cx="20.2" cy="404.8" rx="10.5" ry="31.7" transform="rotate(-19 20.2 404.8)"/><ellipse cx="75.8" cy="411.4" rx="11.5" ry="27.0" transform="rotate(-19 75.8 411.4)"/><ellipse cx="307.1" cy="395.9" rx="10.5" ry="29.3" transform="rotate(-19 307.1 395.9)"/><ellipse cx="238.2" cy="413.7" rx="12.5" ry="31.7" transform="rotate(-19 238.2 413.7)"/><ellipse cx="300.5" cy="422.6" rx="10.5" ry="24.7" transform="rotate(-19 300.5 422.6)"/><ellipse cx="2.4" cy="346.9" rx="10.5" ry="29.3" transform="rotate(-19 2.4 346.9)"/><ellipse cx="466.1" cy="44.5" rx="12.5" ry="45.7" transform="rotate(-19 466.1 44.5)"/><ellipse cx="550.7" cy="13.3" rx="12.5" ry="31.7" transform="rotate(-19 550.7 13.3)"/><ellipse cx="614.0" cy="24.5" rx="13.5" ry="41.0" transform="rotate(-19 614.0 24.5)"/><ellipse cx="645.2" cy="6.7" rx="12.5" ry="27.0" transform="rotate(-19 645.2 6.7)"/><ellipse cx="725.2" cy="4.4" rx="12.5" ry="25.8" transform="rotate(-19 725.2 4.4)"/><ellipse cx="813.1" cy="13.3" rx="13.5" ry="36.3" transform="rotate(-19 813.1 13.3)"/><ellipse cx="714.1" cy="42.3" rx="13.5" ry="31.7" transform="rotate(-19 714.1 42.3)"/><ellipse cx="800.8" cy="60.0" rx="15.5" ry="38.7" transform="rotate(-19 800.8 60.0)"/><ellipse cx="526.2" cy="91.2" rx="12.5" ry="34.0" transform="rotate(-19 526.2 91.2)"/><ellipse cx="447.2" cy="104.5" rx="12.5" ry="34.0" transform="rotate(-19 447.2 104.5)"/><ellipse cx="700.8" cy="124.5" rx="16.1" ry="57.4" transform="rotate(-13 700.8 124.5)"/><ellipse cx="758.6" cy="109.0" rx="14.5" ry="32.8" transform="rotate(-19 758.6 109.0)"/><ellipse cx="776.4" cy="120.1" rx="14.5" ry="27.0" transform="rotate(-19 776.4 120.1)"/><ellipse cx="789.7" cy="115.6" rx="13.5" ry="43.4" transform="rotate(-19 789.7 115.6)"/><ellipse cx="605.1" cy="129.0" rx="14.5" ry="43.4" transform="rotate(-19 605.1 129.0)"/><ellipse cx="514.0" cy="160.1" rx="14.5" ry="43.4" transform="rotate(-19 514.0 160.1)"/><ellipse cx="433.9" cy="142.3" rx="11.5" ry="34.0" transform="rotate(-19 433.9 142.3)"/><ellipse cx="602.9" cy="180.1" rx="12.5" ry="29.3" transform="rotate(-19 602.9 180.1)"/><ellipse cx="674.1" cy="204.6" rx="16.5" ry="34.0" transform="rotate(-19 674.1 204.6)"/><ellipse cx="669.6" cy="251.3" rx="19.5" ry="55.0" transform="rotate(-13 669.6 251.3)"/><ellipse cx="589.6" cy="217.9" rx="13.5" ry="41.0" transform="rotate(-19 589.6 217.9)"/><ellipse cx="498.4" cy="233.5" rx="14.5" ry="45.7" transform="rotate(-19 498.4 233.5)"/><ellipse cx="763.0" cy="244.6" rx="15.5" ry="55.0" transform="rotate(-13 763.0 244.6)"/><ellipse cx="840.9" cy="293.6" rx="14.5" ry="34.0" transform="rotate(-19 840.9 293.6)"/><ellipse cx="482.8" cy="282.4" rx="11.5" ry="29.3" transform="rotate(-19 482.8 282.4)"/><ellipse cx="482.8" cy="335.8" rx="13.5" ry="34.0" transform="rotate(-19 482.8 335.8)"/><ellipse cx="751.9" cy="331.4" rx="12.5" ry="31.7" transform="rotate(-19 751.9 331.4)"/><ellipse cx="562.9" cy="360.3" rx="15.5" ry="41.0" transform="rotate(-19 562.9 360.3)"/><ellipse cx="654.1" cy="349.2" rx="12.5" ry="31.7" transform="rotate(-19 654.1 349.2)"/><ellipse cx="634.1" cy="367.0" rx="16.5" ry="41.0" transform="rotate(-19 634.1 367.0)"/><ellipse cx="656.3" cy="389.2" rx="14.5" ry="36.3" transform="rotate(-19 656.3 389.2)"/><ellipse cx="738.6" cy="395.9" rx="12.5" ry="48.0" transform="rotate(-19 738.6 395.9)"/><ellipse cx="467.3" cy="389.2" rx="11.5" ry="38.7" transform="rotate(-19 467.3 389.2)"/><ellipse cx="540.6" cy="411.4" rx="12.5" ry="34.0" transform="rotate(-19 540.6 411.4)"/><ellipse cx="825.3" cy="398.1" rx="12.5" ry="31.7" transform="rotate(-19 825.3 398.1)"/><ellipse cx="687.4" cy="289.1" rx="12.5" ry="27.0" transform="rotate(-19 687.4 289.1)"/><ellipse cx="75.8" cy="430.3" rx="12.5" ry="27.0" transform="rotate(-19 75.8 430.3)"/><ellipse cx="151.5" cy="440.3" rx="14.5" ry="38.7" transform="rotate(-19 151.5 440.3)"/><ellipse cx="231.5" cy="447.0" rx="15.5" ry="48.0" transform="rotate(-19 231.5 447.0)"/><ellipse cx="304.9" cy="429.2" rx="12.5" ry="24.7" transform="rotate(-19 304.9 429.2)"/><ellipse cx="376.1" cy="431.4" rx="11.5" ry="27.0" transform="rotate(-19 376.1 431.4)"/><ellipse cx="64.7" cy="469.3" rx="12.5" ry="31.7" transform="rotate(-19 64.7 469.3)"/><ellipse cx="143.7" cy="502.6" rx="15.5" ry="45.7" transform="rotate(-19 143.7 502.6)"/><ellipse cx="284.9" cy="518.2" rx="14.5" ry="45.7" transform="rotate(-19 284.9 518.2)"/><ellipse cx="365.0" cy="502.6" rx="14.5" ry="41.0" transform="rotate(-19 365.0 502.6)"/><ellipse cx="204.8" cy="542.6" rx="15.5" ry="38.7" transform="rotate(-19 204.8 542.6)"/><ellipse cx="53.6" cy="516.0" rx="12.5" ry="31.7" transform="rotate(-19 53.6 516.0)"/><ellipse cx="353.8" cy="553.8" rx="12.5" ry="34.0" transform="rotate(-19 353.8 553.8)"/><ellipse cx="115.9" cy="578.2" rx="14.5" ry="41.0" transform="rotate(-19 115.9 578.2)"/><ellipse cx="193.7" cy="576.0" rx="13.5" ry="34.0" transform="rotate(-19 193.7 576.0)"/><ellipse cx="278.2" cy="582.7" rx="15.5" ry="41.0" transform="rotate(-19 278.2 582.7)"/><ellipse cx="351.6" cy="598.2" rx="13.5" ry="34.0" transform="rotate(-19 351.6 598.2)"/><ellipse cx="22.5" cy="624.9" rx="13.5" ry="43.4" transform="rotate(-19 22.5 624.9)"/><ellipse cx="418.3" cy="636.1" rx="14.5" ry="43.4" transform="rotate(-19 418.3 636.1)"/><ellipse cx="199.3" cy="706.1" rx="18.1" ry="112.2" transform="rotate(-13 199.3 706.1)"/><ellipse cx="95.9" cy="667.2" rx="11.5" ry="31.7" transform="rotate(-19 95.9 667.2)"/><ellipse cx="244.9" cy="676.1" rx="14.5" ry="36.3" transform="rotate(-19 244.9 676.1)"/><ellipse cx="324.9" cy="707.2" rx="15.5" ry="45.7" transform="rotate(-19 324.9 707.2)"/><ellipse cx="9.1" cy="705.0" rx="14.5" ry="38.7" transform="rotate(-19 9.1 705.0)"/><ellipse cx="82.5" cy="742.8" rx="13.5" ry="31.7" transform="rotate(-19 82.5 742.8)"/><ellipse cx="149.2" cy="760.6" rx="16.5" ry="45.7" transform="rotate(-19 149.2 760.6)"/><ellipse cx="231.5" cy="760.6" rx="14.5" ry="34.0" transform="rotate(-19 231.5 760.6)"/><ellipse cx="54.7" cy="794.0" rx="16.5" ry="45.7" transform="rotate(-19 54.7 794.0)"/><ellipse cx="167.0" cy="809.5" rx="15.5" ry="43.4" transform="rotate(-19 167.0 809.5)"/><ellipse cx="300.5" cy="814.0" rx="14.5" ry="36.3" transform="rotate(-19 300.5 814.0)"/><ellipse cx="407.2" cy="796.2" rx="14.5" ry="38.7" transform="rotate(-19 407.2 796.2)"/><ellipse cx="217.1" cy="827.3" rx="14.5" ry="48.0" transform="rotate(-19 217.1 827.3)"/><ellipse cx="131.4" cy="845.1" rx="14.5" ry="29.3" transform="rotate(-19 131.4 845.1)"/><ellipse cx="376.1" cy="845.1" rx="12.5" ry="29.3" transform="rotate(-19 376.1 845.1)"/><ellipse cx="38.0" cy="560.4" rx="10.5" ry="29.3" transform="rotate(-19 38.0 560.4)"/><ellipse cx="550.7" cy="447.0" rx="14.5" ry="41.0" transform="rotate(-19 550.7 447.0)"/><ellipse cx="458.4" cy="455.9" rx="12.5" ry="31.7" transform="rotate(-19 458.4 455.9)"/><ellipse cx="594.0" cy="473.7" rx="14.5" ry="38.7" transform="rotate(-19 594.0 473.7)"/><ellipse cx="627.4" cy="493.7" rx="16.5" ry="38.7" transform="rotate(-19 627.4 493.7)"/><ellipse cx="718.6" cy="464.8" rx="14.5" ry="38.7" transform="rotate(-19 718.6 464.8)"/><ellipse cx="783.1" cy="442.6" rx="13.5" ry="36.3" transform="rotate(-19 783.1 442.6)"/><ellipse cx="814.2" cy="451.5" rx="11.5" ry="34.0" transform="rotate(-19 814.2 451.5)"/><ellipse cx="447.2" cy="516.0" rx="13.5" ry="31.7" transform="rotate(-19 447.2 516.0)"/><ellipse cx="798.6" cy="516.0" rx="14.5" ry="50.4" transform="rotate(-19 798.6 516.0)"/><ellipse cx="525.1" cy="547.1" rx="14.5" ry="41.0" transform="rotate(-19 525.1 547.1)"/><ellipse cx="703.0" cy="547.1" rx="14.5" ry="41.0" transform="rotate(-19 703.0 547.1)"/><ellipse cx="611.8" cy="571.6" rx="15.5" ry="43.4" transform="rotate(-19 611.8 571.6)"/><ellipse cx="433.9" cy="582.7" rx="12.5" ry="31.7" transform="rotate(-19 433.9 582.7)"/><ellipse cx="522.9" cy="602.7" rx="14.5" ry="36.3" transform="rotate(-19 522.9 602.7)"/><ellipse cx="605.1" cy="620.5" rx="14.5" ry="36.3" transform="rotate(-19 605.1 620.5)"/><ellipse cx="694.1" cy="618.3" rx="12.5" ry="29.3" transform="rotate(-19 694.1 618.3)"/><ellipse cx="778.6" cy="618.3" rx="15.5" ry="41.0" transform="rotate(-19 778.6 618.3)"/><ellipse cx="429.4" cy="631.6" rx="12.5" ry="36.3" transform="rotate(-19 429.4 631.6)"/><ellipse cx="844.2" cy="627.2" rx="23.5" ry="71.4" transform="rotate(-13 844.2 627.2)"/><ellipse cx="502.8" cy="671.6" rx="13.5" ry="36.3" transform="rotate(-19 502.8 671.6)"/><ellipse cx="671.9" cy="687.2" rx="15.5" ry="45.7" transform="rotate(-19 671.9 687.2)"/><ellipse cx="765.3" cy="669.4" rx="14.5" ry="34.0" transform="rotate(-19 765.3 669.4)"/><ellipse cx="540.6" cy="746.1" rx="18.9" ry="72.5" transform="rotate(-13 540.6 746.1)"/><ellipse cx="580.7" cy="720.6" rx="13.5" ry="43.4" transform="rotate(-19 580.7 720.6)"/><ellipse cx="667.4" cy="733.9" rx="12.5" ry="29.3" transform="rotate(-19 667.4 733.9)"/><ellipse cx="751.9" cy="731.7" rx="12.5" ry="29.3" transform="rotate(-19 751.9 731.7)"/><ellipse cx="839.8" cy="739.5" rx="21.5" ry="63.2" transform="rotate(-13 839.8 739.5)"/><ellipse cx="480.6" cy="787.3" rx="14.5" ry="41.0" transform="rotate(-19 480.6 787.3)"/><ellipse cx="656.3" cy="773.9" rx="14.5" ry="36.3" transform="rotate(-19 656.3 773.9)"/><ellipse cx="720.8" cy="805.1" rx="18.5" ry="59.7" transform="rotate(-13 720.8 805.1)"/><ellipse cx="541.8" cy="830.6" rx="20.9" ry="48.0" transform="rotate(-19 541.8 830.6)"/><ellipse cx="598.5" cy="840.7" rx="14.5" ry="31.7" transform="rotate(-19 598.5 840.7)"/><ellipse cx="472.8" cy="834.0" rx="11.5" ry="34.0" transform="rotate(-19 472.8 834.0)"/><ellipse cx="569.6" cy="791.7" rx="12.5" ry="29.3" transform="rotate(-19 569.6 791.7)"/><ellipse cx="736.4" cy="847.3" rx="12.5" ry="27.0" transform="rotate(-19 736.4 847.3)"/><ellipse cx="676.3" cy="782.8" rx="11.5" ry="31.7" transform="rotate(-19 676.3 782.8)"/></g>
<g filter="url(#bl7)" fill="#1a1a1a" opacity="0.8"><ellipse cx="44.5" cy="213.5" rx="7" ry="12" transform="rotate(-15 44.5 213.5)"/><ellipse cx="40.0" cy="266.9" rx="7" ry="12" transform="rotate(-15 40.0 266.9)"/><ellipse cx="28.9" cy="311.4" rx="7" ry="12" transform="rotate(-15 28.9 311.4)"/><ellipse cx="33.4" cy="346.9" rx="7" ry="12" transform="rotate(-15 33.4 346.9)"/><ellipse cx="329.1" cy="364.7" rx="7" ry="12" transform="rotate(-15 329.1 364.7)"/><ellipse cx="8.9" cy="75.6" rx="7" ry="12" transform="rotate(-15 8.9 75.6)"/><ellipse cx="538.2" cy="129.0" rx="7" ry="12" transform="rotate(-15 538.2 129.0)"/><ellipse cx="631.6" cy="93.4" rx="7" ry="12" transform="rotate(-15 631.6 93.4)"/><ellipse cx="455.9" cy="175.7" rx="7" ry="12" transform="rotate(-15 455.9 175.7)"/><ellipse cx="513.7" cy="264.7" rx="7" ry="12" transform="rotate(-15 513.7 264.7)"/><ellipse cx="809.5" cy="111.2" rx="7" ry="12" transform="rotate(-15 809.5 111.2)"/><ellipse cx="847.3" cy="382.5" rx="7" ry="12" transform="rotate(-15 847.3 382.5)"/><ellipse cx="46.7" cy="598.2" rx="7" ry="12" transform="rotate(-15 46.7 598.2)"/><ellipse cx="262.4" cy="678.3" rx="7" ry="12" transform="rotate(-15 262.4 678.3)"/><ellipse cx="375.8" cy="582.7" rx="7" ry="12" transform="rotate(-15 375.8 582.7)"/><ellipse cx="13.3" cy="738.4" rx="7" ry="12" transform="rotate(-15 13.3 738.4)"/><ellipse cx="246.9" cy="805.1" rx="7" ry="12" transform="rotate(-15 246.9 805.1)"/><ellipse cx="802.8" cy="640.5" rx="7" ry="12" transform="rotate(-15 802.8 640.5)"/><ellipse cx="778.4" cy="713.9" rx="7" ry="12" transform="rotate(-15 778.4 713.9)"/><ellipse cx="511.5" cy="794.0" rx="7" ry="12" transform="rotate(-15 511.5 794.0)"/><ellipse cx="509.3" cy="834.0" rx="7" ry="12" transform="rotate(-15 509.3 834.0)"/><ellipse cx="487.0" cy="453.7" rx="7" ry="12" transform="rotate(-15 487.0 453.7)"/><ellipse cx="460.4" cy="564.9" rx="7" ry="12" transform="rotate(-15 460.4 564.9)"/><ellipse cx="598.2" cy="760.6" rx="7" ry="12" transform="rotate(-15 598.2 760.6)"/><ellipse cx="651.6" cy="471.5" rx="7" ry="12" transform="rotate(-15 651.6 471.5)"/></g>
<g filter="url(#bl3)" fill="#fff"><ellipse cx="41.1" cy="5.6" rx="3.8" ry="7.0" transform="rotate(-19 41.1 5.6)"/><ellipse cx="2.2" cy="37.8" rx="3.2" ry="18.0" transform="rotate(-19 2.2 37.8)"/><ellipse cx="71.2" cy="53.4" rx="5.7" ry="12.0" transform="rotate(-19 71.2 53.4)"/><ellipse cx="153.5" cy="28.9" rx="4.7" ry="10.0" transform="rotate(-19 153.5 28.9)"/><ellipse cx="149.0" cy="66.7" rx="5.3" ry="5.6" transform="rotate(-19 149.0 66.7)"/><ellipse cx="228.0" cy="48.9" rx="5.7" ry="15.0" transform="rotate(-19 228.0 48.9)"/><ellipse cx="310.2" cy="24.5" rx="6.6" ry="12.0" transform="rotate(-19 310.2 24.5)"/><ellipse cx="390.3" cy="13.3" rx="4.7" ry="12.0" transform="rotate(-19 390.3 13.3)"/><ellipse cx="293.6" cy="63.4" rx="6.6" ry="11.0" transform="rotate(-19 293.6 63.4)"/><ellipse cx="368.1" cy="91.2" rx="6.6" ry="13.0" transform="rotate(-19 368.1 91.2)"/><ellipse cx="220.2" cy="115.6" rx="6.6" ry="12.0" transform="rotate(-19 220.2 115.6)"/><ellipse cx="313.6" cy="133.4" rx="6.6" ry="20.0" transform="rotate(-19 313.6 133.4)"/><ellipse cx="358.1" cy="155.7" rx="5.7" ry="14.0" transform="rotate(-19 358.1 155.7)"/><ellipse cx="47.8" cy="169.0" rx="5.7" ry="12.0" transform="rotate(-19 47.8 169.0)"/><ellipse cx="82.3" cy="206.8" rx="6.6" ry="16.0" transform="rotate(-19 82.3 206.8)"/><ellipse cx="340.3" cy="204.6" rx="7.6" ry="16.0" transform="rotate(-19 340.3 204.6)"/><ellipse cx="25.6" cy="233.5" rx="4.7" ry="8.0" transform="rotate(-19 25.6 233.5)"/><ellipse cx="113.4" cy="235.7" rx="5.7" ry="16.0" transform="rotate(-19 113.4 235.7)"/><ellipse cx="264.7" cy="244.6" rx="6.6" ry="14.0" transform="rotate(-19 264.7 244.6)"/><ellipse cx="411.4" cy="246.9" rx="5.7" ry="10.0" transform="rotate(-19 411.4 246.9)"/><ellipse cx="333.6" cy="271.3" rx="5.7" ry="10.0" transform="rotate(-19 333.6 271.3)"/><ellipse cx="131.2" cy="282.4" rx="4.7" ry="10.0" transform="rotate(-19 131.2 282.4)"/><ellipse cx="177.9" cy="262.4" rx="3.8" ry="6.0" transform="rotate(-19 177.9 262.4)"/><ellipse cx="249.1" cy="300.2" rx="7.6" ry="20.0" transform="rotate(-19 249.1 300.2)"/><ellipse cx="100.1" cy="326.9" rx="7.6" ry="16.0" transform="rotate(-19 100.1 326.9)"/><ellipse cx="322.5" cy="324.7" rx="5.7" ry="10.0" transform="rotate(-19 322.5 324.7)"/><ellipse cx="82.3" cy="362.5" rx="6.6" ry="16.0" transform="rotate(-19 82.3 362.5)"/><ellipse cx="389.2" cy="367.0" rx="5.7" ry="12.0" transform="rotate(-19 389.2 367.0)"/><ellipse cx="235.7" cy="375.8" rx="3.8" ry="8.0" transform="rotate(-19 235.7 375.8)"/><ellipse cx="22.2" cy="404.8" rx="3.8" ry="10.0" transform="rotate(-19 22.2 404.8)"/><ellipse cx="77.8" cy="411.4" rx="4.7" ry="6.0" transform="rotate(-19 77.8 411.4)"/><ellipse cx="309.1" cy="395.9" rx="3.8" ry="8.0" transform="rotate(-19 309.1 395.9)"/><ellipse cx="240.2" cy="413.7" rx="5.7" ry="10.0" transform="rotate(-19 240.2 413.7)"/><ellipse cx="302.5" cy="422.6" rx="3.8" ry="5.0" transform="rotate(-19 302.5 422.6)"/><ellipse cx="4.4" cy="346.9" rx="3.8" ry="8.0" transform="rotate(-19 4.4 346.9)"/><ellipse cx="468.1" cy="44.5" rx="5.7" ry="22.0" transform="rotate(-19 468.1 44.5)"/><ellipse cx="552.7" cy="13.3" rx="5.7" ry="10.0" transform="rotate(-19 552.7 13.3)"/><ellipse cx="616.0" cy="24.5" rx="6.6" ry="18.0" transform="rotate(-19 616.0 24.5)"/><ellipse cx="647.2" cy="6.7" rx="5.7" ry="6.0" transform="rotate(-19 647.2 6.7)"/><ellipse cx="727.2" cy="4.4" rx="5.7" ry="5.0" transform="rotate(-19 727.2 4.4)"/><ellipse cx="815.1" cy="13.3" rx="6.6" ry="14.0" transform="rotate(-19 815.1 13.3)"/><ellipse cx="716.1" cy="42.3" rx="6.6" ry="10.0" transform="rotate(-19 716.1 42.3)"/><ellipse cx="802.8" cy="60.0" rx="8.5" ry="16.0" transform="rotate(-19 802.8 60.0)"/><ellipse cx="528.2" cy="91.2" rx="5.7" ry="12.0" transform="rotate(-19 528.2 91.2)"/><ellipse cx="449.2" cy="104.5" rx="5.7" ry="12.0" transform="rotate(-19 449.2 104.5)"/><ellipse cx="760.6" cy="109.0" rx="7.6" ry="11.0" transform="rotate(-19 760.6 109.0)"/><ellipse cx="778.4" cy="120.1" rx="7.6" ry="6.0" transform="rotate(-19 778.4 120.1)"/><ellipse cx="791.7" cy="115.6" rx="6.6" ry="20.0" transform="rotate(-19 791.7 115.6)"/><ellipse cx="607.1" cy="129.0" rx="7.6" ry="20.0" transform="rotate(-19 607.1 129.0)"/><ellipse cx="516.0" cy="160.1" rx="7.6" ry="20.0" transform="rotate(-19 516.0 160.1)"/><ellipse cx="435.9" cy="142.3" rx="4.7" ry="12.0" transform="rotate(-19 435.9 142.3)"/><ellipse cx="604.9" cy="180.1" rx="5.7" ry="8.0" transform="rotate(-19 604.9 180.1)"/><ellipse cx="676.1" cy="204.6" rx="9.5" ry="12.0" transform="rotate(-19 676.1 204.6)"/><ellipse cx="591.6" cy="217.9" rx="6.6" ry="18.0" transform="rotate(-19 591.6 217.9)"/><ellipse cx="500.4" cy="233.5" rx="7.6" ry="22.0" transform="rotate(-19 500.4 233.5)"/><ellipse cx="842.9" cy="293.6" rx="7.6" ry="12.0" transform="rotate(-19 842.9 293.6)"/><ellipse cx="484.8" cy="282.4" rx="4.7" ry="8.0" transform="rotate(-19 484.8 282.4)"/><ellipse cx="484.8" cy="335.8" rx="6.6" ry="12.0" transform="rotate(-19 484.8 335.8)"/><ellipse cx="753.9" cy="331.4" rx="5.7" ry="10.0" transform="rotate(-19 753.9 331.4)"/><ellipse cx="564.9" cy="360.3" rx="8.5" ry="18.0" transform="rotate(-19 564.9 360.3)"/><ellipse cx="656.1" cy="349.2" rx="5.7" ry="10.0" transform="rotate(-19 656.1 349.2)"/><ellipse cx="636.1" cy="367.0" rx="9.5" ry="18.0" transform="rotate(-19 636.1 367.0)"/><ellipse cx="658.3" cy="389.2" rx="7.6" ry="14.0" transform="rotate(-19 658.3 389.2)"/><ellipse cx="740.6" cy="395.9" rx="5.7" ry="24.0" transform="rotate(-19 740.6 395.9)"/><ellipse cx="469.3" cy="389.2" rx="4.7" ry="16.0" transform="rotate(-19 469.3 389.2)"/><ellipse cx="542.6" cy="411.4" rx="5.7" ry="12.0" transform="rotate(-19 542.6 411.4)"/><ellipse cx="827.3" cy="398.1" rx="5.7" ry="10.0" transform="rotate(-19 827.3 398.1)"/><ellipse cx="689.4" cy="289.1" rx="5.7" ry="6.0" transform="rotate(-19 689.4 289.1)"/><ellipse cx="77.8" cy="430.3" rx="5.7" ry="6.0" transform="rotate(-19 77.8 430.3)"/><ellipse cx="153.5" cy="440.3" rx="7.6" ry="16.0" transform="rotate(-19 153.5 440.3)"/><ellipse cx="233.5" cy="447.0" rx="8.5" ry="24.0" transform="rotate(-19 233.5 447.0)"/><ellipse cx="306.9" cy="429.2" rx="5.7" ry="5.0" transform="rotate(-19 306.9 429.2)"/><ellipse cx="378.1" cy="431.4" rx="4.7" ry="6.0" transform="rotate(-19 378.1 431.4)"/><ellipse cx="66.7" cy="469.3" rx="5.7" ry="10.0" transform="rotate(-19 66.7 469.3)"/><ellipse cx="145.7" cy="502.6" rx="8.5" ry="22.0" transform="rotate(-19 145.7 502.6)"/><ellipse cx="286.9" cy="518.2" rx="7.6" ry="22.0" transform="rotate(-19 286.9 518.2)"/><ellipse cx="367.0" cy="502.6" rx="7.6" ry="18.0" transform="rotate(-19 367.0 502.6)"/><ellipse cx="206.8" cy="542.6" rx="8.5" ry="16.0" transform="rotate(-19 206.8 542.6)"/><ellipse cx="55.6" cy="516.0" rx="5.7" ry="10.0" transform="rotate(-19 55.6 516.0)"/><ellipse cx="355.8" cy="553.8" rx="5.7" ry="12.0" transform="rotate(-19 355.8 553.8)"/><ellipse cx="117.9" cy="578.2" rx="7.6" ry="18.0" transform="rotate(-19 117.9 578.2)"/><ellipse cx="195.7" cy="576.0" rx="6.6" ry="12.0" transform="rotate(-19 195.7 576.0)"/><ellipse cx="280.2" cy="582.7" rx="8.5" ry="18.0" transform="rotate(-19 280.2 582.7)"/><ellipse cx="353.6" cy="598.2" rx="6.6" ry="12.0" transform="rotate(-19 353.6 598.2)"/><ellipse cx="24.5" cy="624.9" rx="6.6" ry="20.0" transform="rotate(-19 24.5 624.9)"/><ellipse cx="420.3" cy="636.1" rx="7.6" ry="20.0" transform="rotate(-19 420.3 636.1)"/><ellipse cx="97.9" cy="667.2" rx="4.7" ry="10.0" transform="rotate(-19 97.9 667.2)"/><ellipse cx="246.9" cy="676.1" rx="7.6" ry="14.0" transform="rotate(-19 246.9 676.1)"/><ellipse cx="326.9" cy="707.2" rx="8.5" ry="22.0" transform="rotate(-19 326.9 707.2)"/><ellipse cx="11.1" cy="705.0" rx="7.6" ry="16.0" transform="rotate(-19 11.1 705.0)"/><ellipse cx="84.5" cy="742.8" rx="6.6" ry="10.0" transform="rotate(-19 84.5 742.8)"/><ellipse cx="151.2" cy="760.6" rx="9.5" ry="22.0" transform="rotate(-19 151.2 760.6)"/><ellipse cx="233.5" cy="760.6" rx="7.6" ry="12.0" transform="rotate(-19 233.5 760.6)"/><ellipse cx="56.7" cy="794.0" rx="9.5" ry="22.0" transform="rotate(-19 56.7 794.0)"/><ellipse cx="169.0" cy="809.5" rx="8.5" ry="20.0" transform="rotate(-19 169.0 809.5)"/><ellipse cx="302.5" cy="814.0" rx="7.6" ry="14.0" transform="rotate(-19 302.5 814.0)"/><ellipse cx="409.2" cy="796.2" rx="7.6" ry="16.0" transform="rotate(-19 409.2 796.2)"/><ellipse cx="219.1" cy="827.3" rx="7.6" ry="24.0" transform="rotate(-19 219.1 827.3)"/><ellipse cx="133.4" cy="845.1" rx="7.6" ry="8.0" transform="rotate(-19 133.4 845.1)"/><ellipse cx="378.1" cy="845.1" rx="5.7" ry="8.0" transform="rotate(-19 378.1 845.1)"/><ellipse cx="40.0" cy="560.4" rx="3.8" ry="8.0" transform="rotate(-19 40.0 560.4)"/><ellipse cx="552.7" cy="447.0" rx="7.6" ry="18.0" transform="rotate(-19 552.7 447.0)"/><ellipse cx="460.4" cy="455.9" rx="5.7" ry="10.0" transform="rotate(-19 460.4 455.9)"/><ellipse cx="596.0" cy="473.7" rx="7.6" ry="16.0" transform="rotate(-19 596.0 473.7)"/><ellipse cx="629.4" cy="493.7" rx="9.5" ry="16.0" transform="rotate(-19 629.4 493.7)"/><ellipse cx="720.6" cy="464.8" rx="7.6" ry="16.0" transform="rotate(-19 720.6 464.8)"/><ellipse cx="785.1" cy="442.6" rx="6.6" ry="14.0" transform="rotate(-19 785.1 442.6)"/><ellipse cx="816.2" cy="451.5" rx="4.7" ry="12.0" transform="rotate(-19 816.2 451.5)"/><ellipse cx="449.2" cy="516.0" rx="6.6" ry="10.0" transform="rotate(-19 449.2 516.0)"/><ellipse cx="800.6" cy="516.0" rx="7.6" ry="26.0" transform="rotate(-19 800.6 516.0)"/><ellipse cx="527.1" cy="547.1" rx="7.6" ry="18.0" transform="rotate(-19 527.1 547.1)"/><ellipse cx="705.0" cy="547.1" rx="7.6" ry="18.0" transform="rotate(-19 705.0 547.1)"/><ellipse cx="613.8" cy="571.6" rx="8.5" ry="20.0" transform="rotate(-19 613.8 571.6)"/><ellipse cx="435.9" cy="582.7" rx="5.7" ry="10.0" transform="rotate(-19 435.9 582.7)"/><ellipse cx="524.9" cy="602.7" rx="7.6" ry="14.0" transform="rotate(-19 524.9 602.7)"/><ellipse cx="607.1" cy="620.5" rx="7.6" ry="14.0" transform="rotate(-19 607.1 620.5)"/><ellipse cx="696.1" cy="618.3" rx="5.7" ry="8.0" transform="rotate(-19 696.1 618.3)"/><ellipse cx="780.6" cy="618.3" rx="8.5" ry="18.0" transform="rotate(-19 780.6 618.3)"/><ellipse cx="431.4" cy="631.6" rx="5.7" ry="14.0" transform="rotate(-19 431.4 631.6)"/><ellipse cx="504.8" cy="671.6" rx="6.6" ry="14.0" transform="rotate(-19 504.8 671.6)"/><ellipse cx="673.9" cy="687.2" rx="8.5" ry="22.0" transform="rotate(-19 673.9 687.2)"/><ellipse cx="767.3" cy="669.4" rx="7.6" ry="12.0" transform="rotate(-19 767.3 669.4)"/><ellipse cx="582.7" cy="720.6" rx="6.6" ry="20.0" transform="rotate(-19 582.7 720.6)"/><ellipse cx="669.4" cy="733.9" rx="5.7" ry="8.0" transform="rotate(-19 669.4 733.9)"/><ellipse cx="753.9" cy="731.7" rx="5.7" ry="8.0" transform="rotate(-19 753.9 731.7)"/><ellipse cx="482.6" cy="787.3" rx="7.6" ry="18.0" transform="rotate(-19 482.6 787.3)"/><ellipse cx="658.3" cy="773.9" rx="7.6" ry="14.0" transform="rotate(-19 658.3 773.9)"/><ellipse cx="543.8" cy="830.6" rx="13.6" ry="24.0" transform="rotate(-19 543.8 830.6)"/><ellipse cx="600.5" cy="840.7" rx="7.6" ry="10.0" transform="rotate(-19 600.5 840.7)"/><ellipse cx="474.8" cy="834.0" rx="4.7" ry="12.0" transform="rotate(-19 474.8 834.0)"/><ellipse cx="571.6" cy="791.7" rx="5.7" ry="8.0" transform="rotate(-19 571.6 791.7)"/><ellipse cx="738.4" cy="847.3" rx="5.7" ry="6.0" transform="rotate(-19 738.4 847.3)"/><ellipse cx="678.3" cy="782.8" rx="4.7" ry="10.0" transform="rotate(-19 678.3 782.8)"/></g>
<g filter="url(#bl2_2)" fill="#fff"><ellipse cx="164.6" cy="378.1" rx="15.2" ry="48.5" transform="rotate(-13 164.6 378.1)"/><ellipse cx="702.8" cy="124.5" rx="10.1" ry="34.5" transform="rotate(-13 702.8 124.5)"/><ellipse cx="671.6" cy="251.3" rx="13.7" ry="32.4" transform="rotate(-13 671.6 251.3)"/><ellipse cx="765.0" cy="244.6" rx="9.5" ry="32.4" transform="rotate(-13 765.0 244.6)"/><ellipse cx="201.3" cy="706.1" rx="12.3" ry="85.2" transform="rotate(-13 201.3 706.1)"/><ellipse cx="846.2" cy="627.2" rx="18.0" ry="47.5" transform="rotate(-13 846.2 627.2)"/><ellipse cx="542.6" cy="746.1" rx="13.1" ry="48.5" transform="rotate(-13 542.6 746.1)"/><ellipse cx="841.8" cy="739.5" rx="15.8" ry="39.9" transform="rotate(-13 841.8 739.5)"/><ellipse cx="722.8" cy="805.1" rx="12.7" ry="36.7" transform="rotate(-13 722.8 805.1)"/></g>
</g>
</g>
<rect x="174" y="225.5" width="226" height="26" fill="#000"/>
<text transform="matrix(0.32508 0 0 0.31972 179.40 342.36)" font-family="'Liberation Sans', Arial, Helvetica, sans-serif" font-size="200" font-weight="normal" fill="#000">500 nm</text>
<rect x="931" y="255" width="79" height="733" fill="#000"/>
<rect x="938.5" y="266" width="60.5" height="710" fill="url(#cbar)"/>
<text transform="matrix(0.42115 0 0 0.43478 955.47 231.00)" font-family="'Liberation Sans', Arial, Helvetica, sans-serif" font-size="200" font-weight="bold" fill="#000">Z(nm)</text>
<text transform="matrix(0.42992 0 0 0.43028 1044.56 323.74)" font-family="'Liberation Sans', Arial, Helvetica, sans-serif" font-size="200" font-weight="normal" fill="#000">0.4</text>
<text transform="matrix(0.45368 0 0 0.43310 1043.87 663.13)" font-family="'Liberation Sans', Arial, Helvetica, sans-serif" font-size="200" font-weight="normal" fill="#000">0</text>
<text transform="matrix(0.43788 0 0 0.42958 1022.56 1032.14)" font-family="'Liberation Sans', Arial, Helvetica, sans-serif" font-size="200" font-weight="normal" fill="#000">-0.4</text>
<text transform="matrix(0.47313 0 0 0.50000 43.23 116.70)" font-family="'Liberation Sans', Arial, Helvetica, sans-serif" font-size="200" font-weight="bold" fill="#000">A</text>
</g>
<g id="panelB">
<g clip-path="url(#clipB)">
<polyline points="1338.3,158.0 1341.2,156.2 1350.0,141.7 1358.3,129.2 1368.8,116.7 1379.2,107.3 1389.6,101.0 1395.8,99.6 1402.0,102.0 1407.3,110.4 1410.4,125.0 1413.5,150.0 1416.7,172.9 1420.8,200.0 1424.0,218.8 1429.2,233.3 1435.4,256.2 1440.6,277.0 1443.8,289.6 1450.0,303.0 1453.0,317.0 1455.2,324.0 1460.0,325.5 1463.5,330.0 1466.7,346.0 1468.8,351.5 1474.0,352.5 1477.0,362.0 1479.2,373.0 1481.5,377.0 1488.3,378.9 1491.5,388.0 1493.8,397.0 1496.7,404.0 1498.5,406.6 1499.5,404.9 1500.6,403.7 1501.7,403.2 1503.1,405.5 1504.5,411.8 1505.8,420.4 1507.2,428.9 1508.6,435.2 1510.0,437.5 1511.1,436.8 1512.2,435.0 1513.2,432.6 1514.3,430.1 1515.4,428.4 1516.5,427.7 1517.9,430.1 1519.4,436.6 1520.8,445.4 1522.2,454.3 1523.7,460.8 1525.1,463.1 1526.2,462.3 1527.3,460.1 1528.3,457.1 1529.4,454.1 1530.5,451.9 1531.6,451.1 1533.1,453.5 1534.6,460.0 1536.2,469.0 1537.7,477.9 1539.2,484.4 1540.7,486.8 1541.8,485.8 1542.9,483.2 1544.0,479.6 1545.1,476.0 1546.2,473.4 1547.2,472.4 1548.9,475.0 1550.5,482.1 1552.1,491.7 1553.7,501.4 1555.3,508.4 1556.9,511.0 1558.0,509.9 1559.1,506.7 1560.2,502.4 1561.2,498.1 1562.3,495.0 1563.4,493.8 1564.9,496.5 1566.4,503.8 1568.0,513.9 1569.5,523.9 1571.0,531.2 1572.5,533.9 1573.7,532.6 1574.9,529.0 1576.2,524.0 1577.4,519.1 1578.6,515.5 1579.8,514.2 1581.3,516.9 1582.8,524.6 1584.3,535.0 1585.9,545.4 1587.4,553.0 1588.9,555.8 1590.1,554.3 1591.3,550.2 1592.6,544.7 1593.8,539.1 1595.0,535.0 1596.2,533.5 1597.7,536.4 1599.2,544.4 1600.8,555.2 1602.3,566.0 1603.8,574.0 1605.3,576.9 1606.5,575.2 1607.7,570.7 1608.8,564.5 1610.0,558.3 1611.2,553.8 1612.4,552.2 1614.0,555.2 1615.6,563.4 1617.2,574.6 1618.8,585.9 1620.4,594.1 1622.0,597.1 1623.2,595.3 1624.4,590.5 1625.7,583.9 1626.9,577.3 1628.1,572.5 1629.3,570.7 1630.8,573.8 1632.3,582.3 1633.8,594.0 1635.4,605.6 1636.9,614.1 1638.4,617.2 1639.6,615.2 1640.8,609.8 1642.1,602.5 1643.3,595.1 1644.5,589.7 1645.7,587.8 1647.2,591.0 1648.7,599.9 1650.2,612.1 1651.8,624.2 1653.3,633.1 1654.8,636.3 1656.1,634.2 1657.3,628.2 1658.6,620.0 1659.9,611.9 1661.1,605.9 1662.4,603.7 1664.0,607.2 1665.5,616.5 1667.1,629.4 1668.6,642.2 1670.2,651.6 1671.7,655.0 1673.0,652.8 1674.2,646.7 1675.5,638.4 1676.8,630.1 1678.0,624.0 1679.3,621.8 1680.7,625.3 1682.2,634.8 1683.6,647.7 1685.0,660.7 1686.5,670.2 1687.9,673.6 1689.2,671.2 1690.5,664.7 1691.8,655.7 1693.1,646.7 1694.4,640.1 1695.7,637.7 1697.2,641.4 1698.7,651.5 1700.2,665.2 1701.8,679.0 1703.3,689.0 1704.8,692.7 1706.1,690.2 1707.4,683.3 1708.7,673.8 1710.0,664.3 1711.3,657.4 1712.6,654.9 1714.1,658.5 1715.6,668.3 1717.2,681.8 1718.7,695.3 1720.2,705.1 1721.7,708.7 1723.0,706.2 1724.3,699.4 1725.6,690.0 1726.9,680.6 1728.2,673.8 1729.5,671.3 1731.1,674.9 1732.7,684.8 1734.3,698.2 1736.0,711.7 1737.6,721.6 1739.2,725.2 1740.5,722.5 1741.8,715.2 1743.1,705.2 1744.4,695.3 1745.7,688.0 1747.0,685.3 1748.5,689.0 1750.0,699.2 1751.5,713.1 1752.9,727.0 1754.4,737.1 1755.9,740.9 1757.2,738.4 1758.4,731.6 1759.7,722.3 1760.9,713.0 1762.2,706.2 1763.4,703.7 1764.9,707.3 1766.5,717.1 1768.0,730.5 1769.5,743.8 1771.1,753.6 1772.6,757.2 1773.9,754.7 1775.3,747.9 1776.7,738.6 1778.0,729.3 1779.3,722.5 1780.7,720.0 1782.3,723.2 1783.9,731.9 1785.5,743.9 1787.0,755.9 1788.6,764.6 1790.2,767.8 1791.5,765.5 1792.8,759.0 1794.1,750.1 1795.3,741.3 1796.6,734.8 1797.9,732.4 1799.4,735.5 1801.0,744.0 1802.5,755.5 1804.0,767.0 1805.6,775.5 1807.1,778.5 1808.4,776.3 1809.8,770.0 1811.2,761.5 1812.5,753.0 1813.8,746.7 1815.2,744.5 1816.7,747.3 1818.1,755.2 1819.6,765.9 1821.1,776.6 1822.5,784.5 1824.0,787.3 1825.4,785.3 1826.8,779.9 1828.2,772.4 1829.6,765.0 1831.0,759.5 1832.4,757.5 1834.0,760.0 1835.5,766.9 1837.1,776.2 1838.6,785.6 1840.2,792.4 1841.7,795.0 1843.1,793.1 1844.5,788.2 1845.9,781.4 1847.3,774.7 1848.7,769.7 1850.1,767.9 1851.6,770.2 1853.1,776.3 1854.7,784.7 1856.2,793.1 1857.7,799.2 1859.2,801.5 1860.5,799.9 1861.8,795.7 1863.1,790.0 1864.4,784.3 1865.7,780.1 1867.0,778.5 1868.8,780.4 1870.5,785.4 1872.3,792.3 1874.1,799.1 1875.8,804.2 1877.6,806.0 1878.9,804.9 1880.2,801.9 1881.5,797.8 1882.8,793.7 1884.1,790.7 1885.4,789.6 1887.0,791.2 1888.6,795.6 1890.2,801.5 1891.9,807.5 1893.5,811.9 1895.1,813.5 1896.3,812.4 1897.5,809.3 1898.7,805.1 1899.9,800.8 1901.1,797.7 1902.3,796.6 1903.9,798.1 1905.5,802.1 1907.2,807.7 1908.8,813.2 1910.4,817.3 1912.0,818.8 1913.2,817.7 1914.4,814.7 1915.7,810.7 1916.9,806.6 1918.1,803.7 1919.3,802.6 1921.0,804.0 1922.8,808.0 1924.5,813.3 1926.2,818.6 1928.0,822.6 1929.7,824.0 1930.8,822.9 1931.9,819.8 1933.0,815.5 1934.0,811.2 1935.1,808.1 1936.2,807.0 1937.7,808.3 1939.2,811.8 1940.8,816.5 1942.3,821.2 1943.8,824.7 1945.3,826.0 1946.8,825.1 1948.3,822.6 1949.8,819.1 1951.4,815.7 1952.9,813.1 1954.4,812.2 1955.9,813.3 1957.4,816.5 1959.0,820.7 1960.5,825.0 1962.0,828.1 1963.5,829.2 1964.8,828.5 1966.1,826.5 1967.5,823.7 1968.8,821.0 1970.1,818.9 1971.4,818.2 1972.9,819.2 1974.4,821.9 1976.0,825.6 1977.5,829.4 1979.0,832.1 1980.5,833.1 1981.8,832.4 1983.1,830.5 1984.4,827.9 1985.7,825.3 1987.0,823.4 1988.3,822.7 1989.8,823.5 1991.3,825.6 1992.8,828.5 1994.4,831.5 1995.9,833.6 1997.4,834.4 1998.9,833.9 2000.4,832.5 2002.0,830.5 2003.5,828.6 2005.0,827.1 2006.5,826.6 2008.0,827.4 2009.5,829.7 2011.0,832.8 2012.6,835.9 2014.1,838.2 2015.6,839.0 2016.9,838.3 2018.2,836.4 2019.5,833.8 2020.8,831.2 2022.1,829.3 2023.4,828.6 2024.9,829.7 2026.5,832.5 2028.0,836.4 2029.5,840.4 2031.1,843.2 2032.6,844.3 2033.9,843.7 2035.2,842.1 2036.5,840.0 2037.8,837.9 2039.1,836.3 2040.4,835.7 2041.9,836.3 2043.4,838.0 2045.0,840.2 2046.5,842.5 2048.0,844.2 2049.5,844.8 2051.0,844.3 2052.5,843.0 2054.1,841.1 2055.6,839.3 2057.1,838.0 2058.6,837.5 2059.9,838.6 2061.2,841.6 2062.5,845.7 2063.8,849.8 2065.1,852.8 2066.4,853.9 2067.9,852.9 2069.4,850.2 2070.9,846.5 2072.5,842.7 2074.0,840.0 2075.5,839.0 2076.8,840.0 2078.1,842.7 2079.4,846.4 2080.7,850.2 2082.0,852.9 2083.3,853.9 2085.0,853.5 2086.8,852.3 2088.5,850.6 2090.3,849.0 2092.0,847.8 2093.8,847.4 2095.1,847.9 2096.4,849.2 2097.7,851.0 2099.0,852.9 2100.3,854.2 2101.6,854.7 2102.9,854.4 2104.2,853.7 2105.5,852.6 2106.8,851.6 2108.1,850.8 2109.4,850.5 2110.9,851.2 2112.4,853.0 2113.9,855.4 2115.5,857.9 2117.0,859.7 2118.5,860.4 2119.8,859.6 2121.1,857.5 2122.4,854.6 2123.7,851.6 2125.0,849.5 2126.3,848.7 2127.6,849.9 2128.9,853.2 2130.2,857.8 2131.5,862.4 2132.8,865.7 2134.1,866.9 2136.1,866.3 2138.0,864.6 2139.9,862.4 2141.9,860.1 2143.9,858.4 2145.8,857.8 2147.1,858.6 2148.4,860.7 2149.7,863.6 2151.0,866.6 2152.3,868.7 2153.6,869.5 2154.9,869.0 2156.2,867.6 2157.6,865.6 2158.9,863.7 2160.2,862.2 2161.5,861.7 2163.2,862.5 2165.0,864.5 2166.7,867.3 2168.4,870.1 2170.2,872.1 2171.9,872.9 2173.2,872.7 2174.5,872.0 2175.8,871.2 2177.1,870.4 2178.4,869.7 2179.7,869.5 2181.4,869.8 2183.2,870.5 2184.9,871.4 2186.6,872.4 2188.4,873.1 2190.1,873.4 2191.0,873.1 2191.8,872.4 2192.7,871.5 2193.6,870.5 2194.4,869.8 2195.3,869.5 2196.6,870.1 2197.9,871.8 2199.2,874.0 2200.5,876.3 2201.8,878.0 2203.1,878.6 2204.1,878.4 2205.1,878.0 2206.1,877.3 2207.0,876.6 2208.0,876.2 2209.0,876.0" fill="none" stroke="#9c9c9c" stroke-width="5.5" stroke-linejoin="round" stroke-linecap="butt"/>
<polyline points="1338.3,158.0 1341.2,156.2 1350.0,141.7 1358.3,129.2 1368.8,116.7 1379.2,107.3 1389.6,101.0 1395.8,99.6 1402.0,102.0 1407.3,110.4 1410.4,125.0 1413.5,150.0 1416.7,172.9 1420.8,200.0 1424.0,218.8 1429.2,233.3 1435.4,256.2 1440.6,277.0 1443.8,289.6 1450.0,303.0 1453.0,317.0 1455.2,324.0 1460.0,325.5 1463.5,330.0 1466.7,346.0 1468.8,351.5 1474.0,352.5 1477.0,362.0 1479.2,373.0 1481.5,377.0 1488.3,378.9 1491.5,388.0 1493.8,397.0 1496.7,404.0 1497.8,408.5 1498.9,407.4 1500.0,406.0 1501.0,404.6 1502.1,403.5 1503.2,403.1 1504.6,405.3 1506.0,411.2 1507.3,419.2 1508.7,427.3 1510.1,433.2 1511.5,435.4 1512.6,434.8 1513.7,433.3 1514.8,431.2 1515.8,429.2 1516.9,427.7 1518.0,427.1 1519.4,429.3 1520.9,435.2 1522.3,443.4 1523.7,451.5 1525.2,457.4 1526.6,459.6 1527.7,459.0 1528.8,457.2 1529.8,454.8 1530.9,452.4 1532.0,450.6 1533.1,450.0 1534.6,452.1 1536.1,457.9 1537.7,465.9 1539.2,473.9 1540.7,479.7 1542.2,481.8 1543.3,481.1 1544.4,479.1 1545.5,476.3 1546.6,473.6 1547.7,471.5 1548.8,470.8 1550.4,473.1 1552.0,479.4 1553.6,488.0 1555.2,496.6 1556.8,502.9 1558.4,505.2 1559.5,504.3 1560.6,501.8 1561.7,498.4 1562.7,495.1 1563.8,492.6 1564.9,491.7 1566.4,494.1 1567.9,500.6 1569.5,509.5 1571.0,518.4 1572.5,524.9 1574.0,527.3 1575.2,526.3 1576.4,523.4 1577.7,519.5 1578.9,515.6 1580.1,512.7 1581.3,511.7 1582.8,514.1 1584.3,520.8 1585.8,530.0 1587.4,539.1 1588.9,545.8 1590.4,548.2 1591.6,547.0 1592.8,543.8 1594.1,539.5 1595.3,535.1 1596.5,531.9 1597.7,530.7 1599.2,533.2 1600.7,540.1 1602.2,549.5 1603.8,558.8 1605.3,565.7 1606.8,568.2 1608.0,566.9 1609.2,563.4 1610.3,558.6 1611.5,553.8 1612.7,550.3 1613.9,549.0 1615.5,551.5 1617.1,558.4 1618.7,567.8 1620.3,577.1 1621.9,584.0 1623.5,586.5 1624.7,585.2 1625.9,581.7 1627.2,576.9 1628.4,572.0 1629.6,568.5 1630.8,567.2 1632.3,569.7 1633.8,576.6 1635.3,586.0 1636.9,595.3 1638.4,602.2 1639.9,604.7 1641.1,603.3 1642.3,599.5 1643.6,594.3 1644.8,589.1 1646.0,585.3 1647.2,583.9 1648.7,586.5 1650.2,593.6 1651.8,603.4 1653.3,613.1 1654.8,620.3 1656.3,622.9 1657.6,621.3 1658.8,617.0 1660.1,611.2 1661.4,605.4 1662.6,601.1 1663.9,599.5 1665.5,602.3 1667.0,609.8 1668.6,620.0 1670.1,630.3 1671.7,637.8 1673.2,640.6 1674.5,639.0 1675.7,634.8 1677.0,628.9 1678.3,623.1 1679.5,618.8 1680.8,617.2 1682.2,619.9 1683.7,627.3 1685.1,637.4 1686.5,647.5 1688.0,654.9 1689.4,657.6 1690.7,655.9 1692.0,651.4 1693.3,645.2 1694.6,639.0 1695.9,634.5 1697.2,632.8 1698.7,635.6 1700.2,643.3 1701.8,653.9 1703.3,664.4 1704.8,672.2 1706.3,675.0 1707.6,673.3 1708.9,668.7 1710.2,662.4 1711.5,656.0 1712.8,651.4 1714.1,649.7 1715.6,652.4 1717.1,659.8 1718.7,669.9 1720.2,680.0 1721.7,687.4 1723.2,690.1 1724.5,688.5 1725.8,684.1 1727.1,678.0 1728.4,672.0 1729.7,667.5 1731.0,665.9 1732.6,668.6 1734.2,675.9 1735.8,685.8 1737.5,695.8 1739.1,703.0 1740.7,705.7 1742.0,704.0 1743.3,699.2 1744.6,692.7 1745.9,686.2 1747.2,681.4 1748.5,679.7 1750.0,682.5 1751.5,690.2 1753.0,700.6 1754.4,711.1 1755.9,718.8 1757.4,721.6 1758.7,720.0 1759.9,715.7 1761.2,709.8 1762.4,703.8 1763.7,699.5 1764.9,697.9 1766.4,700.6 1768.0,708.0 1769.5,718.0 1771.0,728.1 1772.6,735.5 1774.1,738.2 1775.4,736.6 1776.8,732.2 1778.2,726.2 1779.5,720.1 1780.8,715.7 1782.2,714.1 1783.8,716.9 1785.4,724.5 1787.0,734.9 1788.5,745.3 1790.1,752.9 1791.7,755.7 1793.0,753.8 1794.3,748.6 1795.6,741.6 1796.8,734.5 1798.1,729.3 1799.4,727.4 1800.9,730.3 1802.5,738.2 1804.0,749.0 1805.5,759.8 1807.1,767.7 1808.6,770.6 1809.9,768.6 1811.3,763.0 1812.7,755.5 1814.0,747.9 1815.3,742.3 1816.7,740.3 1818.2,743.0 1819.6,750.5 1821.1,760.6 1822.6,770.8 1824.0,778.3 1825.5,781.0 1826.9,779.2 1828.3,774.3 1829.7,767.6 1831.1,760.9 1832.5,756.0 1833.9,754.2 1835.5,756.9 1837.0,764.1 1838.6,774.1 1840.1,784.0 1841.7,791.3 1843.2,794.0 1844.6,792.1 1846.0,787.0 1847.4,780.1 1848.8,773.1 1850.2,768.0 1851.6,766.1 1853.1,768.7 1854.6,775.7 1856.2,785.2 1857.7,794.8 1859.2,801.8 1860.7,804.4 1862.0,802.7 1863.3,797.9 1864.6,791.4 1865.9,784.9 1867.2,780.1 1868.5,778.4 1870.0,780.8 1871.5,787.5 1873.0,796.6 1874.6,805.7 1876.1,812.4 1877.6,814.8 1878.9,813.2 1880.2,808.9 1881.5,803.1 1882.8,797.2 1884.1,793.0 1885.4,791.4 1887.0,793.5 1888.6,799.4 1890.2,807.4 1891.9,815.4 1893.5,821.3 1895.1,823.4 1896.3,821.9 1897.5,817.7 1898.7,812.0 1899.9,806.2 1901.1,802.0 1902.3,800.5 1903.9,802.5 1905.5,808.0 1907.2,815.5 1908.8,823.0 1910.4,828.5 1912.0,830.5 1913.2,829.2 1914.4,825.5 1915.7,820.5 1916.9,815.4 1918.1,811.7 1919.3,810.4 1920.8,812.4 1922.3,817.7 1923.8,825.0 1925.4,832.3 1926.9,837.6 1928.4,839.6 1929.7,838.3 1931.0,834.7 1932.3,829.8 1933.6,824.9 1934.9,821.3 1936.2,820.0 1937.7,821.8 1939.2,826.7 1940.8,833.4 1942.3,840.2 1943.8,845.1 1945.3,846.9 1946.8,845.6 1948.3,842.1 1949.8,837.4 1951.4,832.6 1952.9,829.2 1954.4,827.9 1955.9,829.6 1957.4,834.1 1959.0,840.2 1960.5,846.4 1962.0,850.9 1963.5,852.6 1964.8,851.5 1966.1,848.6 1967.5,844.6 1968.8,840.5 1970.1,837.6 1971.4,836.5 1972.9,837.8 1974.4,841.5 1976.0,846.5 1977.5,851.5 1979.0,855.2 1980.5,856.5 1981.8,855.6 1983.1,853.1 1984.4,849.6 1985.7,846.2 1987.0,843.6 1988.3,842.7 1989.8,844.1 1991.3,847.8 1992.8,852.9 1994.4,857.9 1995.9,861.6 1997.4,863.0 1998.9,862.0 2000.4,859.4 2002.0,855.9 2003.5,852.3 2005.0,849.7 2006.5,848.7 2008.0,850.1 2009.5,853.9 2011.0,859.1 2012.6,864.3 2014.1,868.1 2015.6,869.5 2016.9,868.5 2018.2,865.6 2019.5,861.7 2020.8,857.8 2022.1,854.9 2023.4,853.9 2024.9,855.2 2026.5,858.6 2028.0,863.4 2029.5,868.1 2031.1,871.6 2032.6,872.9 2033.9,872.1 2035.2,869.8 2036.5,866.6 2037.8,863.5 2039.1,861.2 2040.4,860.4 2041.9,861.4 2043.4,864.0 2045.0,867.5 2046.5,871.1 2048.0,873.7 2049.5,874.7 2051.0,874.0 2052.5,872.1 2054.1,869.5 2055.6,866.9 2057.1,865.0 2058.6,864.3 2059.9,865.3 2061.2,867.9 2062.5,871.4 2063.8,875.0 2065.1,877.6 2066.4,878.6 2067.9,877.9 2069.4,876.0 2070.9,873.4 2072.5,870.8 2074.0,868.9 2075.5,868.2 2076.8,869.2 2078.1,872.0 2079.4,875.8 2080.7,879.5 2082.0,882.3 2083.3,883.3 2084.6,882.6 2085.9,880.7 2087.2,878.1 2088.5,875.5 2089.8,873.6 2091.1,872.9 2093.1,873.8 2095.0,876.1 2097.0,879.4 2099.0,882.6 2100.9,885.0 2102.9,885.9 2103.8,885.1 2104.6,882.8 2105.5,879.6 2106.4,876.5 2107.2,874.2 2108.1,873.4 2109.8,874.2 2111.6,876.4 2113.3,879.3 2115.0,882.2 2116.8,884.4 2118.5,885.2 2120.0,884.7 2121.5,883.2 2123.1,881.2 2124.6,879.3 2126.1,877.8 2127.6,877.3 2128.9,877.8 2130.2,879.1 2131.5,880.8 2132.8,882.6 2134.1,883.9 2135.4,884.4 2137.1,884.0 2138.9,882.8 2140.6,881.2 2142.3,879.7 2144.1,878.5 2145.8,878.1 2147.1,878.7 2148.4,880.5 2149.7,882.9 2151.0,885.4 2152.3,887.2 2153.6,887.8 2154.9,887.1 2156.2,885.2 2157.6,882.5 2158.9,879.9 2160.2,878.0 2161.5,877.3 2163.2,878.5 2165.0,881.7 2166.7,886.0 2168.4,890.4 2170.2,893.6 2171.9,894.8 2173.2,894.1 2174.5,892.1 2175.8,889.4 2177.1,886.6 2178.4,884.6 2179.7,883.9 2181.1,884.4 2182.5,885.9 2183.8,887.9 2185.2,890.0 2186.6,891.5 2188.0,892.0 2189.2,891.5 2190.4,890.0 2191.7,888.0 2192.9,885.9 2194.1,884.4 2195.3,883.9 2196.8,884.5 2198.2,886.2 2199.7,888.4 2201.1,890.7 2202.6,892.4 2204.0,893.0 2205.2,892.7 2206.3,892.0 2207.5,891.0 2208.7,890.0 2209.8,889.3 2211.0,889.0" fill="none" stroke="#ff7f0a" stroke-width="5.5" stroke-linejoin="round" stroke-linecap="butt"/>
</g>
<path d="M1458.00 33.3 v13.2 M1458.00 940.0 v-13.2 M1608.45 33.3 v13.2 M1608.45 940.0 v-13.2 M1758.90 33.3 v13.2 M1758.90 940.0 v-13.2 M1909.35 33.3 v13.2 M1909.35 940.0 v-13.2 M2059.80 33.3 v13.2 M2059.80 940.0 v-13.2" stroke="#000" stroke-width="5.6" stroke-linecap="round" fill="none"/>
<path d="M1382.78 33.3 v7 M1382.78 940.0 v-7 M1533.22 33.3 v7 M1533.22 940.0 v-7 M1683.67 33.3 v7 M1683.67 940.0 v-7 M1834.12 33.3 v7 M1834.12 940.0 v-7 M1984.57 33.3 v7 M1984.57 940.0 v-7 M2135.03 33.3 v7 M2135.03 940.0 v-7" stroke="#000" stroke-width="5.2" stroke-linecap="round" fill="none"/>
<path d="M1338.3 758.66 h13.2 M2211.3 758.66 h-13.2 M1338.3 577.32 h13.2 M2211.3 577.32 h-13.2 M1338.3 395.98 h13.2 M2211.3 395.98 h-13.2 M1338.3 214.64 h13.2 M2211.3 214.64 h-13.2" stroke="#000" stroke-width="5.6" stroke-linecap="round" fill="none"/>
<path d="M1338.3 885.41 h7.3 M2211.3 885.41 h-7.3 M1338.3 853.48 h7.3 M2211.3 853.48 h-7.3 M1338.3 830.82 h7.3 M2211.3 830.82 h-7.3 M1338.3 813.25 h7.3 M2211.3 813.25 h-7.3 M1338.3 798.89 h7.3 M2211.3 798.89 h-7.3 M1338.3 786.75 h7.3 M2211.3 786.75 h-7.3 M1338.3 776.23 h7.3 M2211.3 776.23 h-7.3 M1338.3 766.96 h7.3 M2211.3 766.96 h-7.3 M1338.3 704.07 h7.3 M2211.3 704.07 h-7.3 M1338.3 672.14 h7.3 M2211.3 672.14 h-7.3 M1338.3 649.48 h7.3 M2211.3 649.48 h-7.3 M1338.3 631.91 h7.3 M2211.3 631.91 h-7.3 M1338.3 617.55 h7.3 M2211.3 617.55 h-7.3 M1338.3 605.41 h7.3 M2211.3 605.41 h-7.3 M1338.3 594.89 h7.3 M2211.3 594.89 h-7.3 M1338.3 585.62 h7.3 M2211.3 585.62 h-7.3 M1338.3 522.73 h7.3 M2211.3 522.73 h-7.3 M1338.3 490.80 h7.3 M2211.3 490.80 h-7.3 M1338.3 468.14 h7.3 M2211.3 468.14 h-7.3 M1338.3 450.57 h7.3 M2211.3 450.57 h-7.3 M1338.3 436.21 h7.3 M2211.3 436.21 h-7.3 M1338.3 424.07 h7.3 M2211.3 424.07 h-7.3 M1338.3 413.55 h7.3 M2211.3 413.55 h-7.3 M1338.3 404.28 h7.3 M2211.3 404.28 h-7.3 M1338.3 341.39 h7.3 M2211.3 341.39 h-7.3 M1338.3 309.46 h7.3 M2211.3 309.46 h-7.3 M1338.3 286.80 h7.3 M2211.3 286.80 h-7.3 M1338.3 269.23 h7.3 M2211.3 269.23 h-7.3 M1338.3 254.87 h7.3 M2211.3 254.87 h-7.3 M1338.3 242.73 h7.3 M2211.3 242.73 h-7.3 M1338.3 232.21 h7.3 M2211.3 232.21 h-7.3 M1338.3 222.94 h7.3 M2211.3 222.94 h-7.3 M1338.3 160.05 h7.3 M2211.3 160.05 h-7.3 M1338.3 128.12 h7.3 M2211.3 128.12 h-7.3 M1338.3 105.46 h7.3 M2211.3 105.46 h-7.3 M1338.3 87.89 h7.3 M2211.3 87.89 h-7.3 M1338.3 73.53 h7.3 M2211.3 73.53 h-7.3 M1338.3 61.39 h7.3 M2211.3 61.39 h-7.3 M1338.3 50.87 h7.3 M2211.3 50.87 h-7.3 M1338.3 41.60 h7.3 M2211.3 41.60 h-7.3" stroke="#000" stroke-width="5" stroke-linecap="round" fill="none"/>
<rect x="1338.3" y="33.3" width="873.0000000000002" height="906.7" fill="none" stroke="#000" stroke-width="6"/>
<text transform="matrix(0.25234 0 0 0.27391 1442.99 994.00)" font-family="'Liberation Sans', Arial, Helvetica, sans-serif" font-size="200" font-weight="bold" fill="#000">1</text>
<text transform="matrix(0.25234 0 0 0.27391 1594.57 994.00)" font-family="'Liberation Sans', Arial, Helvetica, sans-serif" font-size="200" font-weight="bold" fill="#000">2</text>
<text transform="matrix(0.25234 0 0 0.27391 1745.15 994.00)" font-family="'Liberation Sans', Arial, Helvetica, sans-serif" font-size="200" font-weight="bold" fill="#000">3</text>
<text transform="matrix(0.25234 0 0 0.27391 1895.09 994.00)" font-family="'Liberation Sans', Arial, Helvetica, sans-serif" font-size="200" font-weight="bold" fill="#000">4</text>
<text transform="matrix(0.25234 0 0 0.27391 2045.67 994.00)" font-family="'Liberation Sans', Arial, Helvetica, sans-serif" font-size="200" font-weight="bold" fill="#000">5</text>
<text transform="matrix(0.25234 0 0 0.27391 2196.25 994.00)" font-family="'Liberation Sans', Arial, Helvetica, sans-serif" font-size="200" font-weight="bold" fill="#000">6</text>
<text transform="matrix(0.25742 0 0 0.26496 1851.25 138.46)" font-family="'Liberation Sans', Arial, Helvetica, sans-serif" font-size="200" font-weight="bold" fill="#9c9c9c">Pristine</text>
<text transform="matrix(0.25732 0 0 0.26569 1851.25 203.67)" font-family="'Liberation Sans', Arial, Helvetica, sans-serif" font-size="200" font-weight="bold" fill="#ff7f0a">Postmortem</text>
<text transform="matrix(0 -0.26675 0.22299 0 1261.63 742.47)" font-family="'Liberation Sans', Arial, Helvetica, sans-serif" font-size="200" font-weight="normal" fill="#000">log(Intensity) (a.u.)</text>
<text transform="matrix(0.26923 0 0 0.27143 1709.21 1081.00)" font-family="'Liberation Sans', Arial, Helvetica, sans-serif" font-size="200" font-weight="normal" fill="#000">2</text>
<text transform="matrix(0.24629 0 0 0.23881 1739.03 1080.52)" font-family="'Liberation Serif', 'Times New Roman', serif" font-size="200" font-weight="normal" fill="#000">Θ (°)</text>
<text transform="matrix(0.41803 0 0 0.49058 1166.57 116.00)" font-family="'Liberation Sans', Arial, Helvetica, sans-serif" font-size="200" font-weight="bold" fill="#000">B</text>
</g>
<g id="panelC">
<g transform="translate(28 1129)" clip-path="url(#clipC)">
<g filter="url(#latmod)">
<rect x="0" y="0" width="967" height="953.5" fill="#424242"/>
<rect x="-20" y="-20" width="1007" height="993.5" fill="url(#lat)" opacity="0.78"/>
<polygon points="560,0 690,0 735,953.5 600,953.5" fill="url(#band)"/>
</g>
<g mask="url(#ptmask)">
<g filter="url(#spk)">
<rect x="0" y="0" width="967" height="953.5" fill="#505050"/>
<g filter="url(#tb14)">
<ellipse cx="893" cy="83" rx="80" ry="80" fill="#a5a5a5" opacity="0.95"/>
<ellipse cx="930" cy="60" rx="45" ry="40" fill="#a5a5a5" opacity="0.6"/>
<ellipse cx="710" cy="118" rx="28" ry="38" fill="#a5a5a5" opacity="0.8"/>
<ellipse cx="885" cy="288" rx="60" ry="28" fill="#a5a5a5" opacity="0.55"/>
<ellipse cx="873" cy="388" rx="55" ry="38" fill="#a5a5a5" opacity="0.6"/>
<ellipse cx="690" cy="251" rx="12" ry="28" fill="#a5a5a5" opacity="0.6"/>
<ellipse cx="734" cy="580" rx="26" ry="26" fill="#a5a5a5" opacity="0.75"/>
<ellipse cx="951" cy="496" rx="22" ry="32" fill="#a5a5a5" opacity="0.7"/>
<ellipse cx="913" cy="686" rx="42" ry="30" fill="#a5a5a5" opacity="0.7"/>
<ellipse cx="825" cy="799" rx="52" ry="24" fill="#a5a5a5" opacity="0.95"/>
<ellipse cx="888" cy="938" rx="52" ry="20" fill="#a5a5a5" opacity="0.7"/>
<ellipse cx="713" cy="635" rx="11" ry="40" fill="#a5a5a5" opacity="0.55"/>
<ellipse cx="736" cy="787" rx="20" ry="40" fill="#a5a5a5" opacity="0.6"/>
<ellipse cx="940" cy="440" rx="30" ry="40" fill="#a5a5a5" opacity="0.5"/>
<ellipse cx="760" cy="470" rx="30" ry="30" fill="#a5a5a5" opacity="0.35"/>
<ellipse cx="785" cy="155" rx="40" ry="22" fill="#242424" opacity="0.7"/>
<ellipse cx="785" cy="288" rx="50" ry="78" fill="#242424" opacity="0.85"/>
<ellipse cx="953" cy="251" rx="18" ry="30" fill="#242424" opacity="0.8"/>
<ellipse cx="962" cy="150" rx="10" ry="25" fill="#242424" opacity="0.7"/>
<ellipse cx="799" cy="724" rx="45" ry="50" fill="#242424" opacity="0.85"/>
<ellipse cx="825" cy="610" rx="50" ry="28" fill="#242424" opacity="0.7"/>
<ellipse cx="938" cy="761" rx="25" ry="30" fill="#242424" opacity="0.5"/>
<ellipse cx="787" cy="850" rx="35" ry="25" fill="#242424" opacity="0.7"/>
<ellipse cx="913" cy="888" rx="30" ry="18" fill="#242424" opacity="0.6"/>
<ellipse cx="860" cy="520" rx="40" ry="30" fill="#242424" opacity="0.4"/>
<ellipse cx="950" cy="600" rx="30" ry="30" fill="#242424" opacity="0.5"/>
</g>
</g>
</g>
</g>
<path d="M64 2007H570" stroke="#fff" stroke-width="16" stroke-linecap="round" fill="none"/>
<text transform="matrix(0.42676 0 0 0.41972 107.85 1954.46)" font-family="'Liberation Sans', Arial, Helvetica, sans-serif" font-size="200" font-weight="bold" fill="#fff">10 nm</text>
<text transform="matrix(0.39892 0 0 0.42754 442.41 1697.50)" font-family="'Liberation Sans', Arial, Helvetica, sans-serif" font-size="200" font-weight="bold" fill="#fff">LSMO</text>
<text transform="matrix(0.42316 0 0 0.41606 748.81 1697.92)" font-family="'Liberation Sans', Arial, Helvetica, sans-serif" font-size="200" font-weight="bold" fill="#fff">e-Pt</text>
<text transform="matrix(0.39466 0 0 0.50704 45.14 1237.99)" font-family="'Liberation Sans', Arial, Helvetica, sans-serif" font-size="200" font-weight="bold" fill="#fff">C</text>
</g>
<g id="panelD">
<rect x="2077.3" y="1153.3" width="134.89999999999964" height="905.7" fill="url(#gradD)"/>
<path d="M1405.62 1153.3 v12.7 M1405.62 2059.0 v-12.2 M1540.05 1153.3 v12.7 M1540.05 2059.0 v-12.2 M1674.48 1153.3 v12.7 M1674.48 2059.0 v-12.2 M1808.91 1153.3 v12.7 M1808.91 2059.0 v-12.2 M1943.34 1153.3 v12.7 M1943.34 2059.0 v-12.2 M2077.77 1153.3 v12.7 M2077.77 2059.0 v-12.2 M1338.4 1877.86 h12.7 M1338.4 1696.72 h12.7 M1338.4 1515.58 h12.7 M1338.4 1334.44 h12.7" stroke="#000" stroke-width="5.6" stroke-linecap="round" fill="none"/>
<path d="M1472.83 1153.3 v7 M1472.83 2059.0 v-6.5 M1607.26 1153.3 v7 M1607.26 2059.0 v-6.5 M1741.69 1153.3 v7 M1741.69 2059.0 v-6.5 M1876.12 1153.3 v7 M1876.12 2059.0 v-6.5 M2010.55 1153.3 v7 M2010.55 2059.0 v-6.5 M2144.98 1153.3 v7 M2144.98 2059.0 v-6.5 M1338.4 1968.43 h7.2 M1338.4 1787.29 h7.2 M1338.4 1606.15 h7.2 M1338.4 1425.01 h7.2 M1338.4 1243.87 h7.2" stroke="#000" stroke-width="5.2" stroke-linecap="round" fill="none"/>
<rect x="1338.4" y="1153.3" width="873.7999999999997" height="905.7" fill="none" stroke="#000" stroke-width="5.8"/>
<g clip-path="url(#clipD)">
<path d="M1330.3 1500.2L1355.9 1591.7M1391.3 1574.6L1407.7 1525.8M1425.2 1520.5L1425.8 1521.1M1471.0 1510.2L1482.1 1490.5M1493.7 1492.0L1513.6 1570.1M1520.1 1569.8L1539.3 1452.7M1545.3 1452.5L1564.5 1539.2M1575.7 1540.9L1585.7 1523.5M1602.5 1522.8L1610.6 1534.3M1632.6 1538.4L1633.0 1538.1M1649.7 1513.8L1668.0 1438.3M1705.7 1405.5L1714.7 1391.4M1725.7 1393.7L1747.4 1532.4M1752.2 1532.4L1773.4 1396.9M1807.2 1389.3L1822.6 1432.0M1838.8 1435.5L1842.6 1431.6M1863.2 1432.6L1870.3 1441.6M1887.8 1467.8L1898.2 1486.2M1909.8 1515.3L1927.7 1587.7M1933.7 1587.3L1955.5 1429.7M1962.4 1429.1L1978.4 1480.7M1994.4 1484.8L1998.5 1480.8M2014.6 1484.9L2030.4 1534.9M2044.6 1537.3L2051.9 1527.3M2113.8 1524.5L2138.4 2149.2M2139.1 2180.8L2139.2 2200.0M2183.5 2200.0L2188.6 1000.0M2197.6 1000.0L2215.0 2200.0" stroke="#000080" stroke-width="4.2" stroke-linecap="butt" fill="none"/>
<path d="M1314.3 1485.0a11.7 11.7 0 1 0 23.4 0a11.7 11.7 0 1 0 -23.4 0zM1348.5 1606.9a11.7 11.7 0 1 0 23.4 0a11.7 11.7 0 1 0 -23.4 0zM1374.6 1589.6a11.7 11.7 0 1 0 23.4 0a11.7 11.7 0 1 0 -23.4 0zM1401.0 1510.8a11.7 11.7 0 1 0 23.4 0a11.7 11.7 0 1 0 -23.4 0zM1426.6 1530.8a11.7 11.7 0 1 0 23.4 0a11.7 11.7 0 1 0 -23.4 0zM1451.6 1524.0a11.7 11.7 0 1 0 23.4 0a11.7 11.7 0 1 0 -23.4 0zM1478.1 1476.7a11.7 11.7 0 1 0 23.4 0a11.7 11.7 0 1 0 -23.4 0zM1505.8 1585.4a11.7 11.7 0 1 0 23.4 0a11.7 11.7 0 1 0 -23.4 0zM1530.2 1437.1a11.7 11.7 0 1 0 23.4 0a11.7 11.7 0 1 0 -23.4 0zM1556.2 1554.6a11.7 11.7 0 1 0 23.4 0a11.7 11.7 0 1 0 -23.4 0zM1581.8 1509.8a11.7 11.7 0 1 0 23.4 0a11.7 11.7 0 1 0 -23.4 0zM1607.9 1547.3a11.7 11.7 0 1 0 23.4 0a11.7 11.7 0 1 0 -23.4 0zM1634.3 1529.2a11.7 11.7 0 1 0 23.4 0a11.7 11.7 0 1 0 -23.4 0zM1660.0 1422.9a11.7 11.7 0 1 0 23.4 0a11.7 11.7 0 1 0 -23.4 0zM1685.4 1418.8a11.7 11.7 0 1 0 23.4 0a11.7 11.7 0 1 0 -23.4 0zM1711.6 1378.1a11.7 11.7 0 1 0 23.4 0a11.7 11.7 0 1 0 -23.4 0zM1738.1 1548.0a11.7 11.7 0 1 0 23.4 0a11.7 11.7 0 1 0 -23.4 0zM1764.1 1381.2a11.7 11.7 0 1 0 23.4 0a11.7 11.7 0 1 0 -23.4 0zM1790.2 1374.4a11.7 11.7 0 1 0 23.4 0a11.7 11.7 0 1 0 -23.4 0zM1816.2 1446.9a11.7 11.7 0 1 0 23.4 0a11.7 11.7 0 1 0 -23.4 0zM1841.8 1420.2a11.7 11.7 0 1 0 23.4 0a11.7 11.7 0 1 0 -23.4 0zM1868.3 1454.0a11.7 11.7 0 1 0 23.4 0a11.7 11.7 0 1 0 -23.4 0zM1894.3 1500.0a11.7 11.7 0 1 0 23.4 0a11.7 11.7 0 1 0 -23.4 0zM1919.8 1603.0a11.7 11.7 0 1 0 23.4 0a11.7 11.7 0 1 0 -23.4 0zM1946.0 1414.0a11.7 11.7 0 1 0 23.4 0a11.7 11.7 0 1 0 -23.4 0zM1971.4 1495.8a11.7 11.7 0 1 0 23.4 0a11.7 11.7 0 1 0 -23.4 0zM1998.1 1469.8a11.7 11.7 0 1 0 23.4 0a11.7 11.7 0 1 0 -23.4 0zM2023.5 1550.0a11.7 11.7 0 1 0 23.4 0a11.7 11.7 0 1 0 -23.4 0zM2049.6 1514.6a11.7 11.7 0 1 0 23.4 0a11.7 11.7 0 1 0 -23.4 0zM2076.0 1510.1a11.7 11.7 0 1 0 23.4 0a11.7 11.7 0 1 0 -23.4 0zM2101.5 1508.7a11.7 11.7 0 1 0 23.4 0a11.7 11.7 0 1 0 -23.4 0z" fill="#000080"/>
<path d="M1417.2 1486.9L1423.4 1479.7M1466.4 1469.9L1480.5 1437.1M1498.1 1433.5L1501.9 1437.3M1526.0 1457.6L1527.1 1458.4M1550.0 1479.9L1555.8 1486.9M1577.5 1488.2L1581.0 1484.9M1651.4 1452.4L1665.5 1419.2M1676.3 1419.8L1693.5 1476.6M1706.5 1478.4L1716.4 1462.4M1735.7 1460.5L1741.0 1465.9M1759.9 1491.0L1769.5 1507.1M1816.7 1496.6L1817.7 1495.8M1841.6 1475.2L1845.5 1471.4M1865.0 1473.7L1874.8 1489.6M1890.9 1489.3L1901.8 1470.3M1946.7 1456.8L1952.2 1450.7M1969.0 1424.3L1982.7 1392.6M1992.3 1362.6L2011.7 1271.2M2019.9 1240.7L2036.4 1189.3M2052.0 1185.9L2057.2 1191.6M2068.7 1187.5L2077.6 1000.0M2101.6 1000.0L2120.5 1891.6M2121.1 1891.6L2136.8 1000.0M2161.6 1000.0L2173.5 1475.4M2177.1 1506.7L2196.3 1601.2" stroke="#ff7f0a" stroke-width="4.2" stroke-linecap="butt" fill="none"/>
<path d="M1381.0 1474.5L1394.7 1498.8L1367.3 1498.8zM1407.1 1482.8L1420.8 1507.1L1393.4 1507.1zM1433.5 1451.3L1447.2 1475.6L1419.8 1475.6zM1460.2 1468.2L1473.9 1492.5L1446.5 1492.5zM1486.7 1406.3L1500.4 1430.6L1473.0 1430.6zM1513.3 1432.0L1527.0 1456.3L1499.6 1456.3zM1539.8 1451.6L1553.5 1475.9L1526.1 1475.9zM1566.0 1482.8L1579.7 1507.1L1552.3 1507.1zM1592.5 1457.8L1606.2 1482.1L1578.8 1482.1zM1618.8 1464.9L1632.5 1489.2L1605.1 1489.2zM1645.2 1450.8L1658.9 1475.0L1631.5 1475.0zM1671.7 1388.4L1685.4 1412.7L1658.0 1412.7zM1698.1 1475.5L1711.8 1499.8L1684.4 1499.8zM1724.8 1432.8L1738.5 1457.1L1711.1 1457.1zM1751.9 1461.1L1765.6 1485.4L1738.2 1485.4zM1777.5 1504.5L1791.2 1528.8L1763.8 1528.8zM1804.0 1489.8L1817.7 1514.1L1790.3 1514.1zM1830.4 1470.1L1844.1 1494.4L1816.7 1494.4zM1856.7 1444.1L1870.4 1468.4L1843.0 1468.4zM1883.1 1486.8L1896.8 1511.1L1869.4 1511.1zM1909.6 1440.3L1923.3 1464.6L1895.9 1464.6zM1936.2 1452.4L1950.0 1476.7L1922.5 1476.7zM1962.7 1422.6L1976.4 1446.9L1949.0 1446.9zM1989.0 1361.8L2002.7 1386.1L1975.3 1386.1zM2015.0 1239.5L2028.7 1263.8L2001.3 1263.8zM2041.3 1158.0L2055.0 1182.3L2027.6 1182.3zM2067.9 1187.0L2081.6 1211.3L2054.2 1211.3zM2094.2 633.8L2107.9 658.1L2080.5 658.1zM2120.8 1891.2L2134.5 1915.5L2107.1 1915.5zM2147.0 403.8L2160.7 428.1L2133.3 428.1zM2173.9 1475.0L2187.6 1499.3L2160.2 1499.3zM2199.5 1600.5L2213.2 1624.8L2185.8 1624.8z" fill="#ff7f0a"/>
<path d="M1433.7 1429.7L1445.5 1399.5M1461.2 1372.5L1465.3 1367.5M1479.4 1370.4L1495.6 1429.6M1503.6 1429.5L1519.5 1365.3M1532.4 1362.9L1538.6 1371.5M1556.2 1397.7L1563.2 1409.0M1622.8 1400.4L1640.6 1476.3M1654.4 1479.6L1657.3 1476.3M1671.0 1448.8L1688.0 1373.3M1697.1 1372.7L1710.4 1408.1M1722.5 1437.3L1733.9 1462.3M1744.2 1461.4L1759.9 1398.6M1766.5 1398.9L1784.5 1500.0M1821.5 1505.3L1825.4 1500.3M1844.8 1475.4L1850.0 1468.8M1871.3 1466.9L1872.0 1467.5M1914.7 1503.8L1924.5 1523.7M1940.4 1524.8L1947.1 1514.8M1959.1 1486.2L1976.3 1402.0M1982.7 1401.9L2000.2 1482.5M2005.5 1482.2L2025.5 1324.0M2029.3 1324.0L2050.1 1505.1M2055.7 1505.5L2072.0 1439.9M2077.3 1440.3L2097.9 1648.6M2100.3 1648.5L2123.0 1227.2M2129.9 1196.8L2141.6 1168.1" stroke="#a0a0a0" stroke-width="4.1" stroke-linecap="butt" fill="none"/>
<path d="M1367.7 1441.0a11.7 11.7 0 1 0 23.4 0a11.7 11.7 0 1 0 -23.4 0zM1391.6 1443.8a11.7 11.7 0 1 0 23.4 0a11.7 11.7 0 1 0 -23.4 0zM1416.2 1444.4a11.7 11.7 0 1 0 23.4 0a11.7 11.7 0 1 0 -23.4 0zM1439.6 1384.8a11.7 11.7 0 1 0 23.4 0a11.7 11.7 0 1 0 -23.4 0zM1463.5 1355.2a11.7 11.7 0 1 0 23.4 0a11.7 11.7 0 1 0 -23.4 0zM1488.1 1444.8a11.7 11.7 0 1 0 23.4 0a11.7 11.7 0 1 0 -23.4 0zM1511.6 1350.0a11.7 11.7 0 1 0 23.4 0a11.7 11.7 0 1 0 -23.4 0zM1536.0 1384.4a11.7 11.7 0 1 0 23.4 0a11.7 11.7 0 1 0 -23.4 0zM1560.0 1422.3a11.7 11.7 0 1 0 23.4 0a11.7 11.7 0 1 0 -23.4 0zM1583.5 1404.8a11.7 11.7 0 1 0 23.4 0a11.7 11.7 0 1 0 -23.4 0zM1607.5 1385.0a11.7 11.7 0 1 0 23.4 0a11.7 11.7 0 1 0 -23.4 0zM1632.5 1491.7a11.7 11.7 0 1 0 23.4 0a11.7 11.7 0 1 0 -23.4 0zM1655.8 1464.2a11.7 11.7 0 1 0 23.4 0a11.7 11.7 0 1 0 -23.4 0zM1679.8 1357.9a11.7 11.7 0 1 0 23.4 0a11.7 11.7 0 1 0 -23.4 0zM1704.3 1422.9a11.7 11.7 0 1 0 23.4 0a11.7 11.7 0 1 0 -23.4 0zM1728.7 1476.7a11.7 11.7 0 1 0 23.4 0a11.7 11.7 0 1 0 -23.4 0zM1752.0 1383.3a11.7 11.7 0 1 0 23.4 0a11.7 11.7 0 1 0 -23.4 0zM1775.6 1515.6a11.7 11.7 0 1 0 23.4 0a11.7 11.7 0 1 0 -23.4 0zM1800.0 1517.7a11.7 11.7 0 1 0 23.4 0a11.7 11.7 0 1 0 -23.4 0zM1823.5 1487.9a11.7 11.7 0 1 0 23.4 0a11.7 11.7 0 1 0 -23.4 0zM1847.9 1456.2a11.7 11.7 0 1 0 23.4 0a11.7 11.7 0 1 0 -23.4 0zM1872.0 1478.1a11.7 11.7 0 1 0 23.4 0a11.7 11.7 0 1 0 -23.4 0zM1896.0 1489.6a11.7 11.7 0 1 0 23.4 0a11.7 11.7 0 1 0 -23.4 0zM1919.8 1537.9a11.7 11.7 0 1 0 23.4 0a11.7 11.7 0 1 0 -23.4 0zM1944.3 1501.7a11.7 11.7 0 1 0 23.4 0a11.7 11.7 0 1 0 -23.4 0zM1967.7 1386.5a11.7 11.7 0 1 0 23.4 0a11.7 11.7 0 1 0 -23.4 0zM1991.8 1497.9a11.7 11.7 0 1 0 23.4 0a11.7 11.7 0 1 0 -23.4 0zM2015.8 1308.3a11.7 11.7 0 1 0 23.4 0a11.7 11.7 0 1 0 -23.4 0zM2040.2 1520.8a11.7 11.7 0 1 0 23.4 0a11.7 11.7 0 1 0 -23.4 0zM2064.1 1424.6a11.7 11.7 0 1 0 23.4 0a11.7 11.7 0 1 0 -23.4 0zM2087.7 1664.3a11.7 11.7 0 1 0 23.4 0a11.7 11.7 0 1 0 -23.4 0zM2112.2 1211.4a11.7 11.7 0 1 0 23.4 0a11.7 11.7 0 1 0 -23.4 0zM2135.9 1153.5a11.7 11.7 0 1 0 23.4 0a11.7 11.7 0 1 0 -23.4 0z" fill="#a0a0a0"/>
<path d="M1348.0 1533.2L1348.4 1533.7M1364.4 1560.6L1376.8 1588.8M1388.9 1588.5L1402.3 1554.2M1418.3 1551.5L1422.5 1556.6M1463.0 1579.9L1477.4 1620.9M1490.7 1622.1L1499.5 1606.9M1540.3 1581.8L1549.5 1566.6M1567.9 1565.1L1572.3 1570.1M1637.1 1549.9L1652.1 1505.5M1666.1 1503.5L1672.5 1512.8M1689.6 1539.3L1698.4 1554.0M1786.0 1536.6L1800.6 1493.0M1811.2 1492.8L1825.4 1529.9M1842.3 1555.7L1844.3 1557.6M1859.1 1553.2L1877.1 1474.7M1885.4 1474.3L1900.2 1520.7M1910.7 1550.5L1924.3 1585.1M1940.4 1588.0L1944.6 1583.2M1961.0 1556.7L1974.0 1524.9M1985.6 1525.1L1998.9 1559.6M2011.6 1560.2L2022.1 1539.0M2032.8 1540.2L2050.3 1615.7M2065.4 1620.2L2067.2 1618.6M2084.5 1593.0L2098.4 1557.5M2106.4 1558.4L2126.8 1704.9M2139.5 1708.7L2142.8 1704.9M2155.6 1677.4L2175.7 1539.7M2179.1 1539.8L2201.9 1874.3M2204.0 1874.3L2227.0 1515.8" stroke="#a0a0a0" stroke-width="4.1" stroke-linecap="butt" fill="none"/>
<path d="M1338.3 1504.5L1352.0 1528.8L1324.6 1528.8zM1358.1 1529.9L1371.8 1554.2L1344.4 1554.2zM1383.1 1587.0L1396.8 1611.3L1369.4 1611.3zM1408.1 1523.2L1421.8 1547.5L1394.4 1547.5zM1432.7 1552.4L1446.4 1576.7L1419.0 1576.7zM1457.7 1548.8L1471.4 1573.1L1444.0 1573.1zM1482.7 1619.5L1496.4 1643.8L1469.0 1643.8zM1507.5 1577.0L1521.2 1601.3L1493.8 1601.3zM1532.1 1579.1L1545.8 1603.4L1518.4 1603.4zM1557.7 1536.8L1571.4 1561.1L1544.0 1561.1zM1582.5 1565.9L1596.2 1590.2L1568.8 1590.2zM1607.1 1565.9L1620.8 1590.2L1593.4 1590.2zM1632.1 1548.6L1645.8 1572.9L1618.4 1572.9zM1657.1 1474.3L1670.8 1498.6L1643.4 1498.6zM1681.5 1509.5L1695.2 1533.8L1667.8 1533.8zM1706.5 1551.3L1720.2 1575.6L1692.8 1575.6zM1731.0 1537.2L1744.7 1561.5L1717.3 1561.5zM1756.0 1546.1L1769.7 1570.4L1742.3 1570.4zM1781.0 1535.3L1794.7 1559.6L1767.3 1559.6zM1805.6 1461.8L1819.3 1486.1L1791.9 1486.1zM1831.0 1528.4L1844.7 1552.7L1817.3 1552.7zM1855.6 1552.4L1869.3 1576.7L1841.9 1576.7zM1880.6 1443.0L1894.3 1467.3L1866.9 1467.3zM1905.0 1519.5L1918.7 1543.8L1891.3 1543.8zM1930.0 1583.6L1943.7 1607.9L1916.3 1607.9zM1955.0 1555.1L1968.7 1579.4L1941.3 1579.4zM1980.0 1494.1L1993.7 1518.4L1966.3 1518.4zM2004.5 1558.1L2018.2 1582.4L1990.8 1582.4zM2029.2 1508.6L2042.9 1532.9L2015.5 1532.9zM2053.9 1614.8L2067.6 1639.1L2040.2 1639.1zM2078.7 1591.5L2092.4 1615.8L2065.0 1615.8zM2104.2 1526.5L2117.9 1550.8L2090.5 1550.8zM2129.0 1704.3L2142.7 1728.6L2115.3 1728.6zM2153.3 1676.8L2167.0 1701.1L2139.6 1701.1zM2178.0 1507.8L2191.7 1532.1L2164.3 1532.1zM2203.0 1873.8L2216.7 1898.1L2189.3 1898.1zM2228.0 1483.8L2241.7 1508.1L2214.3 1508.1z" fill="#a0a0a0"/>
<path d="M2077.25 1150V1165.9M2077.25 1179.9v18.4M2077.25 1221.0v18.4M2077.25 1262.0v18.4M2077.25 1303.1v18.4M2077.25 1344.2v18.4M2077.25 1385.2v18.4M2077.25 1426.3v18.4M2077.25 1467.4v18.4M2077.25 1508.4v18.4M2077.25 1549.5v18.4M2077.25 1590.6v18.4M2077.25 1631.6v18.4M2077.25 1672.7v18.4M2077.25 1713.7v18.4M2077.25 1754.8v18.4M2077.25 1795.9v18.4M2077.25 1836.9v18.4M2077.25 1878.0v18.4M2077.25 1919.1v18.4M2077.25 1960.1v18.4M2077.25 2001.2v18.4M2077.25 2042.3v18.4" stroke="#000" stroke-width="5" stroke-linecap="round" fill="none"/>
</g>
<text transform="matrix(0.25914 0 0 0.26761 1252.23 1167.96)" font-family="'Liberation Sans', Arial, Helvetica, sans-serif" font-size="200" font-weight="bold" fill="#000">1.0</text>
<text transform="matrix(0.25227 0 0 0.26761 1253.58 1349.10)" font-family="'Liberation Sans', Arial, Helvetica, sans-serif" font-size="200" font-weight="bold" fill="#000">0.8</text>
<text transform="matrix(0.25323 0 0 0.26761 1253.57 1530.24)" font-family="'Liberation Sans', Arial, Helvetica, sans-serif" font-size="200" font-weight="bold" fill="#000">0.6</text>
<text transform="matrix(0.24758 0 0 0.26761 1253.62 1711.38)" font-family="'Liberation Sans', Arial, Helvetica, sans-serif" font-size="200" font-weight="bold" fill="#000">0.4</text>
<text transform="matrix(0.25420 0 0 0.26761 1253.57 1892.52)" font-family="'Liberation Sans', Arial, Helvetica, sans-serif" font-size="200" font-weight="bold" fill="#000">0.2</text>
<text transform="matrix(0.25420 0 0 0.26761 1253.57 2073.66)" font-family="'Liberation Sans', Arial, Helvetica, sans-serif" font-size="200" font-weight="bold" fill="#000">0.0</text>
<text transform="matrix(0.25568 0 0 0.26549 1367.67 2113.17)" font-family="'Liberation Sans', Arial, Helvetica, sans-serif" font-size="200" font-weight="bold" fill="#000">-10</text>
<text transform="matrix(0.25568 0 0 0.26549 1516.04 2113.17)" font-family="'Liberation Sans', Arial, Helvetica, sans-serif" font-size="200" font-weight="bold" fill="#000">-8</text>
<text transform="matrix(0.25568 0 0 0.26549 1650.72 2113.17)" font-family="'Liberation Sans', Arial, Helvetica, sans-serif" font-size="200" font-weight="bold" fill="#000">-6</text>
<text transform="matrix(0.25568 0 0 0.26549 1784.26 2113.17)" font-family="'Liberation Sans', Arial, Helvetica, sans-serif" font-size="200" font-weight="bold" fill="#000">-4</text>
<text transform="matrix(0.25568 0 0 0.26549 1919.58 2113.17)" font-family="'Liberation Sans', Arial, Helvetica, sans-serif" font-size="200" font-weight="bold" fill="#000">-2</text>
<text transform="matrix(0.25568 0 0 0.26549 2063.58 2113.17)" font-family="'Liberation Sans', Arial, Helvetica, sans-serif" font-size="200" font-weight="bold" fill="#000">0</text>
<text transform="matrix(0.25568 0 0 0.26549 2198.14 2113.17)" font-family="'Liberation Sans', Arial, Helvetica, sans-serif" font-size="200" font-weight="bold" fill="#000">2</text>
<text transform="matrix(0.25588 0 0 0.26479 1341.46 1910.47)" font-family="'Liberation Sans', Arial, Helvetica, sans-serif" font-size="200" font-weight="bold" fill="#ff7f0a">Stoichiometric LSMO - triangle</text>
<text transform="matrix(0.25634 0 0 0.27174 1340.17 1976.40)" font-family="'Liberation Sans', Arial, Helvetica, sans-serif" font-size="200" font-weight="bold" fill="#000080">Mn enriched LSMO - point</text>
<text transform="matrix(0.26377 0 0 0.27176 1340.17 2039.96)" font-family="'Liberation Sans', Arial, Helvetica, sans-serif" font-size="200" font-weight="normal" fill="#000">pristine - grey</text>
<text transform="matrix(0.25913 0 0 0.25725 1614.15 2198.50)" font-family="'Liberation Sans', Arial, Helvetica, sans-serif" font-size="200" font-weight="normal" fill="#000">Distance (nm)</text>
<text transform="matrix(0 -0.25731 0.26884 0 1223.60 1713.72)" font-family="'Liberation Sans', Arial, Helvetica, sans-serif" font-size="200" font-weight="normal" fill="#000">La/Mn</text>
<text transform="matrix(0.46667 0 0 0.49275 1165.93 1237.00)" font-family="'Liberation Sans', Arial, Helvetica, sans-serif" font-size="200" font-weight="bold" fill="#000">D</text>
</g>
</svg>
</body>
</html>
